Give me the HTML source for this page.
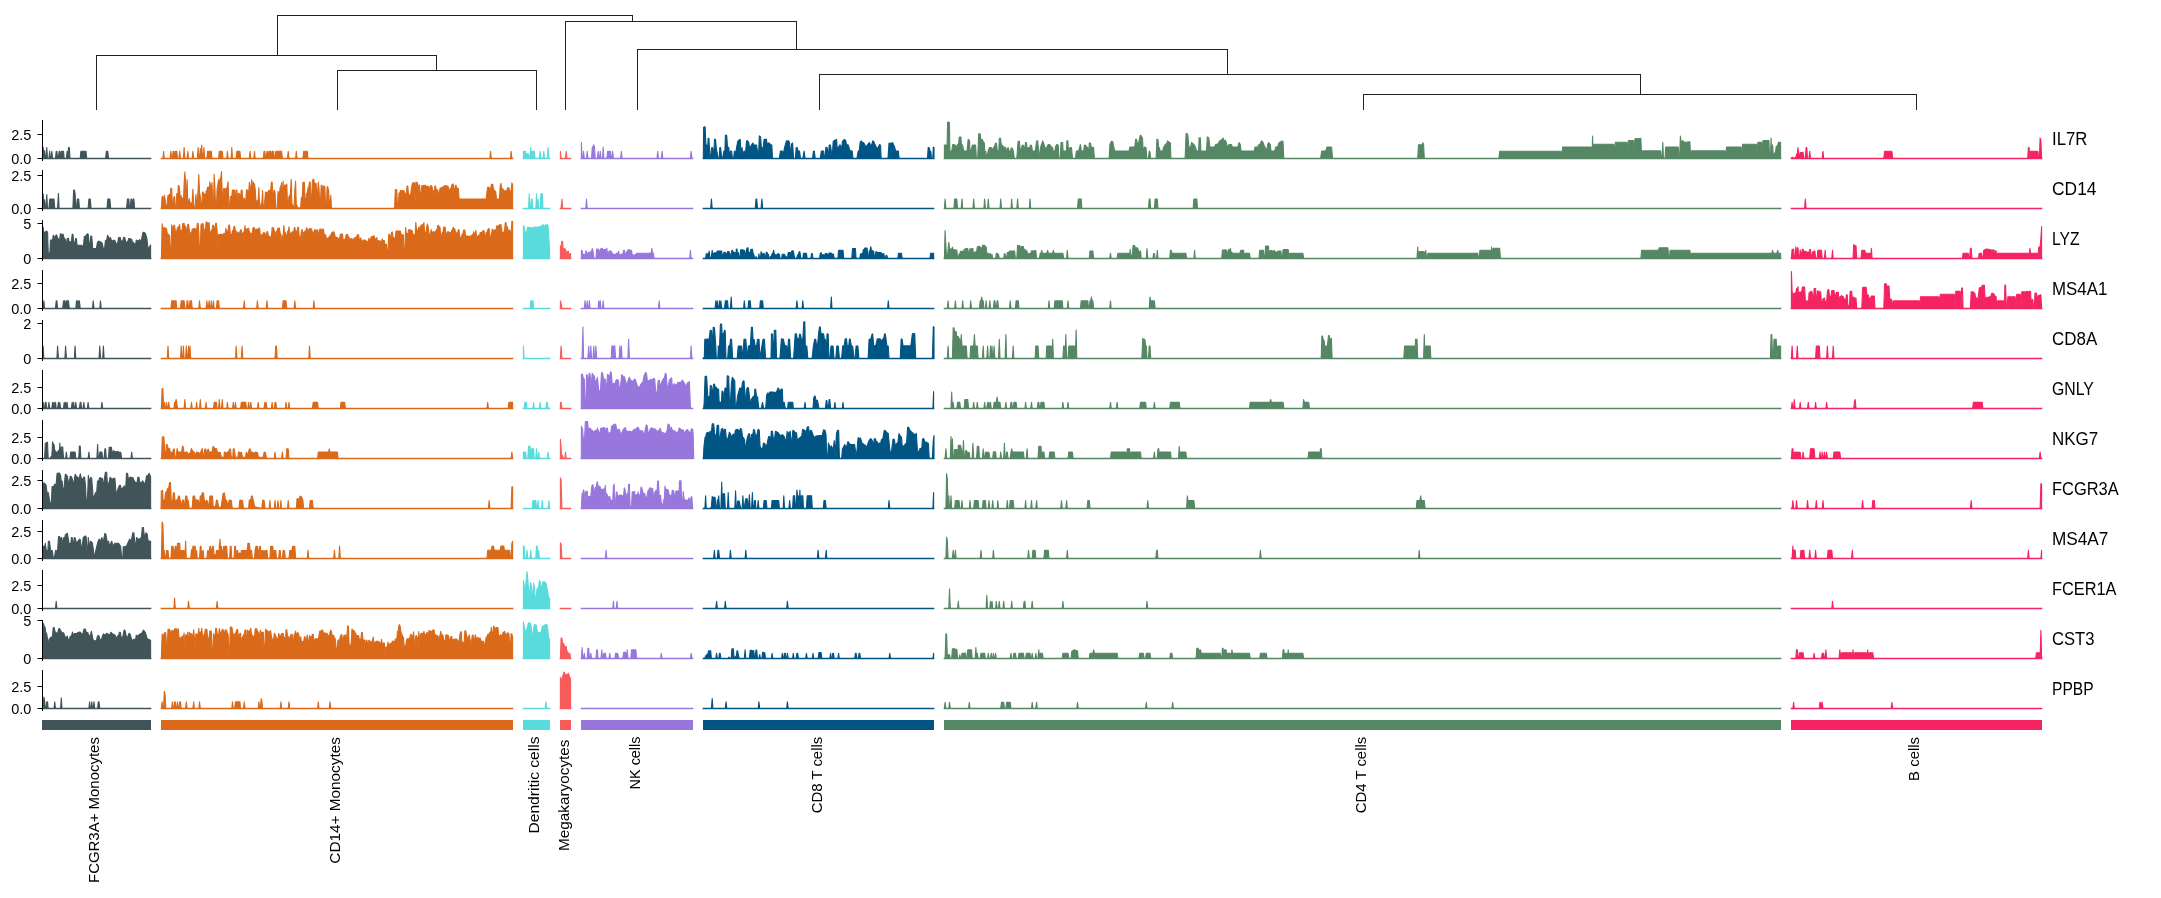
<!DOCTYPE html><html><head><meta charset="utf-8"><style>html,body{margin:0;padding:0;background:#fff;overflow:hidden}svg{display:block;will-change:transform}text{font-family:"Liberation Sans",sans-serif;opacity:0.999}</style></head><body>
<svg xmlns="http://www.w3.org/2000/svg" width="2161" height="898" viewBox="0 0 2161 898">
<rect width="2161" height="898" fill="#fff"/>
<path d="M96.5 109.5L96.5 55.5M96.5 55.5L436.5 55.5M436.5 55.5L436.5 70.5M337.5 109.5L337.5 70.5M337.5 70.5L536.5 70.5M536.5 70.5L536.5 109.5M277.5 55.5L277.5 15.5M277.5 15.5L632.5 15.5M632.5 15.5L632.5 21.5M565.5 109.5L565.5 21.5M565.5 21.5L796.5 21.5M796.5 21.5L796.5 49.5M637.5 109.5L637.5 49.5M637.5 49.5L1227.5 49.5M1227.5 49.5L1227.5 74.5M819.5 109.5L819.5 74.5M819.5 74.5L1640.5 74.5M1640.5 74.5L1640.5 94.5M1363.5 109.5L1363.5 94.5M1363.5 94.5L1916.5 94.5M1916.5 94.5L1916.5 109.5" stroke="#222" stroke-width="1" fill="none" stroke-linecap="square"/>
<path d="M42.4 158.5L42.4 158.5L43.1 147.1L43.9 158.5L44.6 150.5L45.3 158.5L46 158.5L46.8 147.5L47.5 158.5L48.9 158.5L49.7 151.2L50.4 158.5L51.1 158.5L51.8 151.2L52.6 158.5L55.5 158.5L56.2 151.2L56.9 151.2L57.6 158.5L58.4 158.5L59.1 151.2L59.8 151.2L60.6 158.5L61.3 151.2L63.5 151.2L64.2 158.5L66.4 158.5L67.1 151.2L67.8 158.5L68.5 147.5L69.3 147.5L70 158.5L80.2 158.5L80.9 151.2L86 151.2L86.7 158.5L105.6 158.5L106.3 151.2L107.8 151.2L108.5 158.5L150.6 158.5Z" fill="#405459" stroke="#405459" stroke-width="1.1" stroke-linejoin="round"/>
<path d="M41.7 158.50H151.3" stroke="#405459" stroke-width="1.5"/>
<path d="M161.4 158.5L162.9 158.5L163.6 151.2L164.3 158.5L170.2 158.5L170.9 151.2L171.7 158.5L172.4 158.5L173.1 151.2L173.9 151.2L174.6 158.5L175.3 151.2L176.8 151.2L177.5 158.5L179 158.5L179.7 151.2L180.5 158.5L183.4 158.5L184.1 147.6L184.9 158.5L187.1 158.5L187.8 151.2L188.5 158.5L192.2 158.5L192.9 151.2L193.7 158.5L197.3 158.5L198.1 147.5L198.8 158.5L199.5 158.5L200.3 148.5L201 158.5L201.7 145L202.5 158.5L203.2 158.5L203.9 147.5L204.7 158.5L206.9 158.5L207.6 151.2L211.3 151.2L212 158.5L218.6 158.5L219.3 151.2L222.3 151.2L223 158.5L226.7 158.5L227.4 151.2L228.1 158.5L231.1 158.5L231.8 147.5L232.5 158.5L236.2 158.5L236.9 151.2L239.9 151.2L240.6 158.5L249.4 158.5L250.1 151.2L250.8 158.5L253.8 158.5L254.5 151.2L255.2 158.5L263.3 158.5L264 151.2L264.8 151.2L265.5 158.5L266.2 158.5L267 151.2L267.7 151.2L268.4 158.5L269.2 151.2L270.6 151.2L271.4 158.5L272.1 151.2L273.6 151.2L274.3 158.5L275 158.5L275.8 151.2L281.6 151.2L282.4 158.5L287.5 158.5L288.2 151.2L289 158.5L295.6 158.5L296.3 151.2L297 158.5L302.9 158.5L303.6 151.2L307.3 151.2L308 158.5L489.9 158.5L490.6 151.2L491.3 158.5L510.4 158.5L511.1 151.2L511.9 158.5L512.6 158.5Z" fill="#da6a19" stroke="#da6a19" stroke-width="1.1" stroke-linejoin="round"/>
<path d="M160.7 158.50H513.3" stroke="#da6a19" stroke-width="1.5"/>
<path d="M523.4 158.5L523.4 151.2L525.6 151.2L526.3 158.5L527 153.7L528.5 153.7L529.2 158.5L530 158.5L530.7 147.6L531.4 158.5L532.1 151.2L534.3 151.2L535 158.5L539.4 158.5L540.1 151.2L540.9 158.5L543 158.5L543.8 151.2L544.5 158.5L547.4 158.5L548.1 147.6L548.9 158.5L549.6 158.5Z" fill="#59dbdc" stroke="#59dbdc" stroke-width="1.1" stroke-linejoin="round"/>
<path d="M522.7 158.50H550.3" stroke="#59dbdc" stroke-width="1.5"/>
<path d="M560.4 158.5L560.4 151.2L561.1 158.5L565.5 158.5L566.2 151.2L567 158.5L570.6 158.5Z" fill="#f75b5a" stroke="#f75b5a" stroke-width="1.1" stroke-linejoin="round"/>
<path d="M559.7 158.50H571.3" stroke="#f75b5a" stroke-width="1.5"/>
<path d="M581.4 158.5L581.4 142.2L582.1 158.5L582.9 158.5L583.6 151.2L584.3 158.5L586.5 158.5L587.2 151.2L587.9 158.5L591.6 158.5L592.3 147.1L593 147.1L593.8 144.7L594.5 147.1L595.2 158.5L597.4 158.5L598.1 151.2L598.8 158.5L599.6 158.5L600.3 151.2L601 158.5L602.5 158.5L603.2 147.1L603.9 158.5L606.8 158.5L607.6 151.2L610.5 151.2L611.2 158.5L611.9 158.5L612.7 151.2L613.4 158.5L620.6 158.5L621.4 151.2L622.1 158.5L657 158.5L657.7 151.2L658.4 158.5L661.3 158.5L662.1 151.2L662.8 158.5L690.4 158.5L691.1 151.2L691.9 158.5L692.6 158.5Z" fill="#9877dd" stroke="#9877dd" stroke-width="1.1" stroke-linejoin="round"/>
<path d="M580.7 158.50H693.3" stroke="#9877dd" stroke-width="1.5"/>
<path d="M703.4 158.5L933.6 158.5ZM703.3 158.5L703.3 158.5L703.6 127.2L705.1 126.7L705.9 144.5L706.9 145.5L707.6 151.1L708.1 138.4L708.9 138.4L709.9 157.2L710.7 157.2L711.5 148.1L712.5 147.6L713.2 151.1L714 151.1L714.5 139.4L715.5 139.4L716.3 148.6L718.3 158.5L719.3 158.5L719.8 147.6L720.6 147.6L721.6 157.2L722.6 158.5L723.9 151.1L724.9 151.1L725.4 135.3L726.7 135.3L727.5 147L728.8 147.6L729.5 157.2L730.5 151.1L731.6 151.1L732.3 157.2L733.8 157.2L734.4 151.1L735.6 153.7L736.6 147.6L737.7 141.5L739.2 139.9L740.2 139.4L741 153.7L742 147.6L743 153.7L744.3 151.1L745.3 155.2L746.6 140.9L747.6 140.9L748.6 142L749.4 147L750.6 147L751.4 145L752.9 143L753.9 145L756.5 145L758.5 157.2L759.3 135.9L760.6 136.9L761.3 147L763.1 148.6L764.1 139.4L766.4 139.4L767.4 145.5L768.4 143L769.5 143L770.2 144.5L771.8 145L772.5 158.5L779.4 158.5L780.4 151.1L782.4 151.1L783.5 153.7L784.5 147.6L786.5 140.9L788.8 140.9L789.6 143.5L790.3 151.1L791.1 151.1L791.6 144L792.6 143L793.6 158.5L795.4 158.5L796.2 147.6L797.2 147.6L798 151.1L799.5 151.1L800.5 158.5L802.8 158.5L804.1 151.1L805.1 158.5L812.6 158.5L813.4 151.1L814.4 151.6L815.2 158.5L820.3 158.5L821.3 151.1L823.6 151.1L824.3 157.2L825.1 157.2L825.9 147.3L827.1 147.6L828.4 157.2L829.2 145L830.4 145L832.2 157.2L833.2 141.5L834.5 140.4L836.6 139.4L837.1 147L838.6 147.6L839.6 145L840.4 145L841.4 151.1L842.4 141.5L844.4 139.4L845.7 140.4L846.5 144.5L848.3 145L849.8 150.6L852.1 151.1L853.1 158.5L856.9 158.5L858.2 151.1L859.2 151.1L860.2 142L861.5 140.9L862.5 143.5L863.5 142.5L865 145L866.3 147L867.6 144.5L869.4 142.5L870.4 145L871.7 145L872.7 140.9L873.7 141.5L874.7 144L876.2 147L877.3 149.1L879.6 144.5L880.6 145.5L881.1 158.5L888 158.5L889 143L891 143.5L892.5 142.5L894.6 147L895.6 151.1L898.4 151.1L899.1 158.5L927.5 158.5L928.2 147.4L929.4 147.9L930.1 151.3L930.9 151.8L931.4 158.5L932.8 158.5L933.3 147.4L934 147.4L934 158.5Z" fill="#015585" stroke="#015585" stroke-width="1.1" stroke-linejoin="round"/>
<path d="M702.7 158.50H934.3" stroke="#015585" stroke-width="1.5"/>
<path d="M944.4 158.5L1417.7 158.5L1418.5 144.7L1422.1 144.7L1422.9 142.7L1423.6 144.7L1424.3 158.5L1498.9 158.5L1499.7 151.2L1561.1 151.2L1561.9 158.5L1562.6 147.1L1591.1 147.1L1591.9 158.5L1592.6 136.1L1593.3 158.5L1594 144.3L1613.8 144.3L1614.5 158.5L1615.3 142.2L1627 142.2L1627.7 158.5L1628.4 140.5L1633.6 140.5L1634.3 158.5L1635 138.6L1636.5 138.6L1637.2 139L1637.9 139L1638.7 138.5L1640.1 138.5L1640.9 138.3L1641.6 158.5L1642.3 150.9L1660.6 150.9L1661.4 158.5L1662.1 158.5L1662.8 142.2L1663.5 158.5L1665 158.5L1665.7 147.1L1678.2 147.1L1678.9 158.5L1679.6 158.5L1680.4 136.1L1681.1 141.5L1681.8 141.5L1682.6 140.8L1683.3 140.8L1684 142.8L1684.8 142.3L1687 142.3L1687.7 141.9L1689.9 141.9L1690.6 158.5L1691.3 150.9L1725 150.9L1725.7 158.5L1726.5 147.1L1741.1 147.1L1741.8 158.5L1742.6 144.3L1756.5 144.3L1757.2 158.5L1757.9 142.2L1761.6 142.2L1762.3 158.5L1763 140.5L1768.9 140.5L1769.6 158.5L1770.4 158.5L1771.1 138.1L1771.8 158.5L1772.6 144.9L1773.3 155.8L1774 155.8L1774.7 152.8L1775.5 152.8L1776.2 146.4L1776.9 146.4L1777.7 145.3L1778.4 142.2L1780.6 142.2L1780.6 158.5ZM944.4 158.5L944.4 145L947.1 145L947.6 122.1L949.4 122.6L949.9 151.1L951.7 151.6L952.7 144.5L955.3 145L956.3 148.1L957.3 145L958.6 143.5L959.3 137.1L960.9 137.1L961.4 144.5L962.4 145L963.9 151.1L967 151.1L968.2 139.4L969.5 140.4L970 151.6L970.5 151.6L972.6 145L975.6 145L976.4 158.5L977.7 158.5L978.7 133.8L980.2 133.8L980.7 138.9L982.2 139.4L983.3 142L984.3 143L984.8 151.1L985.8 151.6L986.8 158.5L988.1 151.1L989.4 147.6L991.4 147.6L992.4 150.6L993.4 147.6L994.5 147L995.5 143L996.5 143.5L997.3 151.1L998.8 151.1L999.3 138.4L1000.6 138.4L1001.3 145L1002.6 145.5L1003.6 147L1005.6 147.6L1006.4 153.7L1007.2 148.6L1008.2 147.6L1009.2 151.1L1010.7 151.1L1011.2 148.1L1012.3 148.1L1013.3 151.1L1014.3 158.5L1016.8 158.5L1018.1 141.2L1019.4 141.2L1020.2 151.1L1021.4 148.1L1022.4 145L1023.5 145.5L1024.5 151.1L1025.5 142.5L1026.5 142.5L1027.3 151.1L1028.3 147.6L1029.6 147.6L1030.6 145L1031.6 145.5L1032.4 151.1L1035.2 151.1L1036.7 140.9L1037.7 140.9L1039.2 158.5L1040.5 147.6L1041.3 145L1042.8 140.9L1044.8 147L1046.3 149.1L1047.5 145.5L1048.6 144.5L1050.3 145L1051.1 147L1052.6 147.6L1053.1 151.1L1054.9 151.1L1055.4 147L1056.7 144.5L1058.2 145L1059 158.5L1060.3 158.5L1061 142.5L1062.6 142.5L1063.1 151.1L1066.4 151.1L1066.9 140.9L1067.9 140.9L1068.4 151.1L1069.9 147.6L1071.5 147.6L1072.5 158.5L1075.5 158.5L1076.3 151.1L1078.6 151.1L1080.4 144.5L1081.4 151.1L1083.7 151.1L1084.4 145L1085.7 145.5L1086.5 147L1087.7 147.6L1088.5 158.5L1089.3 143L1090.5 143L1091.1 147L1093.6 147.6L1094.4 158.5L1109.1 158.5L1109.9 144.5L1111.4 141.2L1112.7 141.5L1114.7 151.1L1129 151.1L1130 147L1134.8 147L1135.6 139.4L1136.6 139.4L1137.4 144L1138.6 143L1140.2 135.3L1141.4 135.9L1142.5 138.4L1143.2 151.1L1144.7 147L1146 147.6L1146.8 158.5L1148.3 158.5L1149.3 151.1L1150 151.6L1150.6 158.5L1156.1 158.5L1156.9 139.4L1157.9 139.4L1158.7 147L1159.4 148.1L1160.2 151.1L1162.7 151.1L1163.5 147.6L1165.3 144.5L1166.8 143.5L1167.6 140.9L1168.8 142L1170.4 143L1170.9 158.5L1185.1 158.5L1186.1 133.3L1187.7 134.3L1188.9 147L1190.7 147L1191.5 142.5L1192.7 143.5L1194.3 145L1195.3 147L1196.6 151.1L1198.6 151.1L1199.1 137.9L1200.4 137.9L1200.9 151.1L1206.5 151.1L1207.3 136.9L1208.8 137.9L1209.8 147L1214.6 147L1215.6 144.5L1217.7 144L1220.2 140.4L1222.3 139.4L1223 137.9L1223.8 140.4L1225.3 140.4L1226.3 142.5L1227.1 147L1228.9 144.5L1231.4 144.5L1232.4 147L1238 147L1239.1 142.5L1240.3 144.5L1241.1 151.1L1254.1 151.1L1255.1 147L1257.8 147L1258.6 145L1260.3 144L1261.4 140.9L1262.6 141.5L1263.7 144.5L1265.4 148.1L1266.5 151.1L1267.7 144.5L1268.7 142.5L1270.3 144.5L1271 151.1L1274.8 151.1L1275.6 147L1277.6 147L1278.9 143L1280.4 142L1282 140.9L1283 141.5L1283.8 158.5L1320.6 158.5L1321.7 151.1L1325.7 151.1L1327 147L1331.6 147L1332.6 158.5L1332.6 158.5Z" fill="#568764" stroke="#568764" stroke-width="1.1" stroke-linejoin="round"/>
<path d="M943.7 158.50H1781.3" stroke="#568764" stroke-width="1.5"/>
<path d="M1791.4 158.5L1791.4 158.5L1792.1 157.2L1792.9 157.2L1793.6 158.5L1794.3 158.5L1795.1 157.5L1795.8 157.5L1796.5 154.1L1797.3 154.1L1798 147.6L1798.7 153.9L1799.5 156.8L1800.2 152.5L1801.7 152.5L1802.4 153.8L1803.1 152L1803.9 158.5L1805.3 158.5L1806.1 147.6L1806.8 147.6L1807.5 158.5L1809 158.5L1809.7 151.2L1810.5 158.5L1822.2 158.5L1823 151.2L1823.7 158.5L1883.8 158.5L1884.6 151.2L1891.9 151.2L1892.7 158.5L2027.7 158.5L2028.4 147.6L2029.1 147.6L2029.9 158.5L2030.6 151.2L2037.9 151.2L2038.7 158.5L2039.4 158.5L2040.1 138.1L2040.9 140.5L2041.6 158.5L2041.6 158.5Z" fill="#f52362" stroke="#f52362" stroke-width="1.1" stroke-linejoin="round"/>
<path d="M1790.7 158.50H2042.3" stroke="#f52362" stroke-width="1.5"/>
<path d="M42.4 208.5L42.4 208.5L43.1 193.8L43.9 208.5L44.6 199.5L45.3 208.5L46 208.5L46.8 194.5L47.5 208.5L48.9 208.5L49.7 199.1L54 199.1L54.7 208.5L57.6 208.5L58.4 193.3L59.1 208.5L72.9 208.5L73.6 190L74.4 190L75.1 193.5L75.8 208.5L76.5 208.5L77.3 199.1L78.7 199.1L79.4 208.5L88.1 208.5L88.9 199.1L90.3 199.1L91.1 208.5L107 208.5L107.8 199.1L109.9 199.1L110.7 208.5L126.6 208.5L127.4 199.1L128.8 199.1L129.5 208.5L130.3 208.5L131 199.1L131.7 199.1L132.4 208.5L133.2 199.1L133.9 199.1L134.6 208.5L150.6 208.5Z" fill="#405459" stroke="#405459" stroke-width="1.1" stroke-linejoin="round"/>
<path d="M41.7 208.50H151.3" stroke="#405459" stroke-width="1.5"/>
<path d="M161.4 208.5L161.4 208.5L162.1 196.3L162.9 198.2L163.6 198.2L164.3 195L165.1 199.4L165.8 206.5L166.5 208.5L167.3 202L168 195.4L168.7 195.4L169.5 194.5L170.2 194.5L170.9 188.4L171.7 188.4L172.4 205.5L173.1 205.5L173.9 196.7L174.6 196.7L175.3 208.5L176.1 208.5L176.8 193.5L177.5 200.2L178.3 185.5L179 185.5L179.7 190.5L180.5 200.2L181.2 195.8L181.9 198.2L182.7 198.2L183.4 204.2L184.1 183.4L184.9 171.9L185.6 183.3L186.3 208.5L187.1 179.5L187.8 201.6L188.5 203.3L189.3 198.9L190 203.1L190.7 203.1L191.5 202.9L192.2 202.9L192.9 189L193.7 205.1L194.4 208.5L195.1 208.5L195.9 194.4L196.6 203.5L197.3 203.5L198.1 189.6L198.8 174.5L199.5 191.9L200.3 196.8L201 205.5L201.7 206.8L202.5 192.1L203.2 192.1L203.9 197.7L204.7 193.9L205.4 200L206.1 191L206.9 191L207.6 187.1L208.3 187.1L209.1 193.8L209.8 181.9L210.5 187L211.3 187L212 182.5L212.7 204.1L213.5 204.1L214.2 174.2L214.9 188.5L215.7 208.5L216.4 208.5L217.1 189.1L217.9 184.5L218.6 179.6L219.3 188.3L220.1 178.3L220.8 178.3L221.5 171.6L222.3 194.8L223 197.9L223.7 188.5L224.5 188.5L225.2 199.9L225.9 188.4L226.7 188.4L227.4 186.3L228.1 181.7L228.9 208.5L229.6 208.5L230.3 196.6L231.1 196.6L231.8 195.8L232.5 190.1L233.3 190.1L234 190.4L234.7 190.4L235.5 205.2L236.2 190.1L236.9 190.1L237.7 208.5L238.4 193.3L239.1 193.3L239.9 196L240.6 196L241.3 190L242.1 190L242.8 201.1L243.5 198.3L244.3 198.3L245 201.6L245.7 201.6L246.5 189.8L247.2 189.8L247.9 192.1L248.7 192.1L249.4 182.3L250.1 188.2L250.8 192.8L251.6 179.5L252.3 203.2L253 181.6L253.8 183.7L254.5 183.7L255.2 189.4L256 202.2L256.7 202.2L257.4 200.3L258.2 200.3L258.9 187.5L259.6 208.5L260.4 208.5L261.1 203.4L261.8 203.8L262.6 190.5L263.3 208.5L264 208.5L264.8 200.3L265.5 192.1L266.2 192.1L267 193.4L267.7 193.4L268.4 190.6L269.2 190.6L269.9 191L270.6 191L271.4 182.1L272.1 182.1L272.8 193.6L273.6 193.6L274.3 190.2L275 192L275.8 208.5L277.2 208.5L278 191.3L278.7 194.6L279.4 194.6L280.2 186.7L280.9 186.7L281.6 182.7L282.4 205.2L283.1 181.1L283.8 201L284.6 185.1L285.3 185.1L286 186.6L286.8 184L287.5 204.9L288.2 205.3L289 196.2L289.7 196.1L290.4 193.2L291.2 179.4L291.9 204.2L292.6 204.2L293.4 208.5L294.1 208.5L294.8 191L295.6 181L296.3 205.5L297 205.5L297.8 208L300 208L300.7 206.4L301.4 197.3L302.2 199.8L302.9 182.5L303.6 182.3L304.4 182.3L305.1 202.1L305.8 202.1L306.6 193.4L307.3 193.4L308 187.9L308.8 186.7L309.5 182.1L310.2 182.1L311 202.4L311.7 198.7L312.4 181.5L313.2 179.2L313.9 179.2L314.6 185.3L315.4 183.4L316.1 183.4L316.8 199.3L317.6 192.3L318.3 182L319 188.5L319.8 205.4L320.5 202.4L321.2 185.3L322 185.3L322.7 203.2L323.4 186L324.2 186L324.9 187.3L325.6 208.5L326.4 208.5L327.1 186.8L327.8 186.8L328.6 190.6L329.3 202.8L330 205.2L330.8 195.4L331.5 208.5L394.6 208.5L395.3 189.5L396 189.5L396.8 189.7L397.5 208.5L398.2 208.5L399 193.1L399.7 193.1L400.4 190.6L401.9 190.6L402.6 190.9L404.1 190.9L404.8 193.4L405.6 193.4L406.3 195.8L407 186.1L407.8 186.1L408.5 194.8L410.7 194.8L411.4 188.4L412.2 184.5L412.9 182.7L414.4 182.7L415.1 203.6L415.8 182.2L417.3 182.2L418 192.6L418.8 185L419.5 185L420.2 195.2L421 195.2L421.7 185.8L422.4 185.8L423.2 185.6L423.9 185.3L425.3 185.3L426.1 186.4L428.3 186.4L429 188.5L429.7 188.5L430.5 185.6L431.2 185.6L431.9 186.4L432.7 190.5L433.4 190.5L434.1 195.7L434.9 186L435.6 186L436.3 189.9L437.8 189.9L438.5 194.7L439.3 194.7L440 188.1L441.5 188.1L442.2 187.1L443.7 187.1L444.4 185.8L446.6 185.8L447.3 186.3L448.1 186.3L448.8 191.1L449.5 191.1L450.3 188L451 190.1L451.7 185.7L452.5 184L453.2 184L453.9 190.4L454.7 190.4L455.4 185.3L456.1 185.3L456.9 188.4L458.3 188.4L459.1 199.1L486.2 199.1L486.9 192.2L487.7 187.2L489.1 187.2L489.9 190L490.6 190L491.3 184.4L492.8 184.4L493.5 190L494.3 190L495 191.4L495.7 191.4L496.5 199.1L499.4 199.1L500.1 186.9L500.9 183.3L501.6 187.5L502.3 188.8L503.1 189.1L503.8 192.5L504.5 190.8L506 190.8L506.7 192.2L507.5 187.8L508.9 187.8L509.7 191.7L510.4 191L511.1 191L511.9 182.8L512.6 185.2L512.6 208.5Z" fill="#da6a19" stroke="#da6a19" stroke-width="1.1" stroke-linejoin="round"/>
<path d="M160.7 208.50H513.3" stroke="#da6a19" stroke-width="1.5"/>
<path d="M523.4 208.5L528.5 208.5L529.2 193.8L530 208.5L530.7 208.5L531.4 199.1L532.1 199.1L532.9 208.5L535.8 208.5L536.5 193.8L537.2 208.5L538 199.1L538.7 208.5L540.1 208.5L540.9 193.8L542.3 193.8L543 208.5L549.6 208.5Z" fill="#59dbdc" stroke="#59dbdc" stroke-width="1.1" stroke-linejoin="round"/>
<path d="M522.7 208.50H550.3" stroke="#59dbdc" stroke-width="1.5"/>
<path d="M560.4 208.5L561.1 208.5L561.9 199.1L562.6 208.5L570.6 208.5Z" fill="#f75b5a" stroke="#f75b5a" stroke-width="1.1" stroke-linejoin="round"/>
<path d="M559.7 208.50H571.3" stroke="#f75b5a" stroke-width="1.5"/>
<path d="M581.4 208.5L585.8 208.5L586.5 199.1L587.2 208.5L692.6 208.5Z" fill="#9877dd" stroke="#9877dd" stroke-width="1.1" stroke-linejoin="round"/>
<path d="M580.7 208.50H693.3" stroke="#9877dd" stroke-width="1.5"/>
<path d="M703.4 208.5L710.7 208.5L711.4 199.1L712.2 208.5L755.3 208.5L756 199.1L756.7 199.1L757.5 208.5L761.1 208.5L761.9 199.1L762.6 208.5L933.6 208.5Z" fill="#015585" stroke="#015585" stroke-width="1.1" stroke-linejoin="round"/>
<path d="M702.7 208.50H934.3" stroke="#015585" stroke-width="1.5"/>
<path d="M944.4 208.5L944.4 208.5L945.1 199.1L945.9 208.5L953.9 208.5L954.6 199.1L956.8 199.1L957.6 208.5L961.2 208.5L962 199.1L962.7 208.5L972.9 208.5L973.7 199.1L974.4 208.5L983.9 208.5L984.6 199.1L985.4 208.5L987.6 208.5L988.3 199.1L989 208.5L1000 208.5L1000.7 199.1L1001.5 208.5L1011 208.5L1011.7 199.1L1012.4 208.5L1016.8 208.5L1017.6 199.1L1018.3 208.5L1029.3 208.5L1030 199.1L1030.7 208.5L1077.5 208.5L1078.3 199.1L1081.2 199.1L1081.9 208.5L1148.5 208.5L1149.2 199.1L1150 199.1L1150.7 208.5L1154.4 208.5L1155.1 199.1L1157.3 199.1L1158 208.5L1193.1 208.5L1193.9 199.1L1196.8 199.1L1197.5 208.5L1780.6 208.5Z" fill="#568764" stroke="#568764" stroke-width="1.1" stroke-linejoin="round"/>
<path d="M943.7 208.50H1781.3" stroke="#568764" stroke-width="1.5"/>
<path d="M1791.4 208.5L1804.6 208.5L1805.3 199.1L1806.1 208.5L2041.6 208.5Z" fill="#f52362" stroke="#f52362" stroke-width="1.1" stroke-linejoin="round"/>
<path d="M1790.7 208.50H2042.3" stroke="#f52362" stroke-width="1.5"/>
<path d="M42.4 258.5L150.6 258.5ZM42.9 258.5L42.9 258.5L43.1 227L43.7 232.2L44.7 232.2L45.3 234.4L45.8 231.2L46.9 231.2L47.6 232.2L48.2 252.8L49.2 253.3L49.8 253.9L50.5 240.1L51.9 240.1L52.4 241.7L53.2 235.4L54 235.9L54.8 240.1L55.8 235.4L56.6 234.9L57.4 237.5L58.5 239.1L59.5 242.3L60.3 233.8L62.2 234.4L63.2 234.4L64 238L65.1 239.1L66.4 244.9L67.2 238.6L68.5 238.3L69 241.7L71.4 241.7L72.2 234.4L73 234.4L73.5 242.3L74.8 242.3L75.6 238.6L76.4 238.6L77.2 246.5L78.5 245.2L81.7 245.2L82.5 246.5L83.5 245.5L84.3 236.5L85.4 236.5L86.4 234.9L87.5 233.8L88.3 234.4L89.3 244.9L90.1 244.9L90.9 235.9L91.7 236.2L92.7 248.3L93.5 248.6L96.4 248.3L97.5 242.3L98.5 241.2L99.6 241.2L100.7 242.3L101.7 242.3L102.5 244.4L103.3 248.6L104.6 248.3L105.4 240.7L106.7 240.1L107.5 235.4L108.6 237L109.6 240.1L110.4 237.5L111.5 240.7L113 240.7L113.8 240.1L114.9 240.7L116.2 243.8L117.5 244.1L118.6 237.5L120.2 237.5L121 240.7L122.8 241.2L123.6 237.3L124.7 237.5L125.7 241.7L127.6 242.3L128.6 238.6L129.7 238.6L130.7 239.1L131.8 239.6L132.3 242.3L133.4 242.3L134.4 244.1L135.7 244.1L136.3 240.1L137.6 240.7L138.4 241.2L139.7 239.6L141.3 241.2L142.3 235.4L143.1 232.2L144.7 232.8L145.5 233.8L146.8 238L148.1 248.6L149.4 247.5L150.5 244.9L150.6 245.2L150.6 258.5Z" fill="#405459" stroke="#405459" stroke-width="1.1" stroke-linejoin="round"/>
<path d="M41.7 258.50H151.3" stroke="#405459" stroke-width="1.5"/>
<path d="M161.4 258.5L161.4 258.5L162.1 223.7L162.9 229.4L163.6 227.8L165.1 227.8L165.8 228.7L166.5 228.7L167.3 233.8L168 233.8L168.7 235.4L169.5 235.4L170.2 253.4L170.9 253.4L171.7 224.8L172.4 228.2L173.1 228.2L173.9 225.2L174.6 225.2L175.3 231.1L176.8 231.1L177.5 227.4L178.3 227.4L179 226.3L179.7 224.5L180.5 235.5L181.2 230.4L181.9 233.1L182.7 223.5L184.1 223.5L184.9 226.9L185.6 226.4L186.3 231.4L187.1 228.9L187.8 224.4L188.5 224.4L189.3 230.3L190 232.7L190.7 232.7L191.5 234.6L192.2 229.1L192.9 229.1L193.7 228.6L195.1 228.6L195.9 230.4L196.6 230.4L197.3 223.2L198.1 223.2L198.8 233L199.5 251.2L200.3 251.2L201 224.8L201.7 223.8L203.2 223.8L203.9 232.4L204.7 229.5L205.4 229.8L206.1 222L206.9 222L207.6 223.4L208.3 223.4L209.1 222.5L209.8 234.2L210.5 234.2L211.3 230.2L212 230.2L212.7 225.3L213.5 225.4L214.2 228.5L214.9 229L215.7 223.3L216.4 223.3L217.1 230.2L217.9 248.7L218.6 234.6L220.1 234.6L220.8 234.4L222.3 234.4L223 235.2L223.7 233.6L224.5 233.5L225.2 233.5L225.9 228.3L226.7 233.4L227.4 233.4L228.1 229.6L228.9 225.1L229.6 225.1L230.3 234.5L231.8 234.5L232.5 230.6L233.3 230.6L234 226.4L234.7 226.4L235.5 231.6L236.9 231.6L237.7 233.6L238.4 233.6L239.1 232.4L239.9 232.4L240.6 229.9L241.3 229.9L242.1 234.8L242.8 233.7L243.5 232.1L244.3 232.1L245 225.5L245.7 236.5L246.5 228.7L247.9 228.7L248.7 228.3L249.4 232.7L250.1 232.7L250.8 233.6L252.3 233.6L253 227.8L254.5 227.8L255.2 235.9L256 229.1L256.7 229.4L258.2 229.4L258.9 228.1L259.6 228.1L260.4 236.5L261.1 234.9L262.6 234.9L263.3 232.7L264.8 232.7L265.5 235.7L266.2 235.7L267 231.6L267.7 231.6L268.4 236.3L269.9 236.3L270.6 237.2L271.4 237.2L272.1 227.8L273.6 227.8L274.3 231.2L275 232L275.8 237L276.5 231L277.2 231L278 228L279.4 228L280.2 233.9L280.9 233.9L281.6 249.4L282.4 235.8L283.1 237.1L283.8 225.6L284.6 232.6L285.3 232.6L286 236L286.8 236L287.5 231.3L288.2 231.3L289 226.9L289.7 233.4L291.2 233.4L291.9 232.1L292.6 231.6L293.4 236.1L294.1 228.2L294.8 227.5L295.6 231.4L297 231.4L297.8 227.2L298.5 227.2L299.2 237.1L300.7 237.1L301.4 230.9L302.2 229.6L302.9 237L303.6 232.2L304.4 232.2L305.1 231L305.8 231L306.6 227.5L307.3 232.7L308 229L308.8 237.8L309.5 228.6L311 228.6L311.7 229.5L312.4 232.4L313.9 232.4L314.6 229.8L315.4 229.8L316.1 237.4L316.8 229.7L317.6 229.7L318.3 233.9L319 233.9L319.8 229.1L321.2 229.1L322 237.3L322.7 229L323.4 229L324.2 234.9L325.6 234.9L326.4 238.3L327.1 238.4L327.8 238.4L328.6 237.4L329.3 237.4L330 235.6L330.8 235.6L331.5 232.8L332.2 232.8L333 231.7L333.7 231.7L334.4 233.1L335.2 237.1L335.9 237.1L336.6 237.6L337.4 237.6L338.1 238.7L339.6 238.7L340.3 234.7L341 234L342.5 234L343.2 240.9L344 239.2L345.4 239.2L346.2 234.5L347.6 234.5L348.4 237.3L349.1 237.3L349.8 240.1L350.6 238.8L352 238.8L352.8 239.8L353.5 239.8L354.2 237.9L355 237.9L355.7 237.6L356.4 237.6L357.2 234.8L358.6 234.8L359.4 240.1L360.1 240.1L360.8 237.8L361.6 240.9L363 240.9L363.8 239.9L364.5 240L365.2 240L366 241L366.7 241L367.4 242.1L368.2 242.1L368.9 238.2L369.6 240.3L370.4 240.3L371.1 237.3L371.8 236.6L373.3 236.6L374 235.7L374.8 238.8L376.2 238.8L377 237.5L377.7 252L378.4 240.5L379.2 240.5L379.9 241.4L381.4 241.4L382.1 239.1L382.8 240.5L384.3 240.5L385 244.4L386.5 244.4L387.2 252.7L388 252.7L388.7 234.2L389.4 234.2L390.2 241.4L390.9 235.8L391.6 232.2L392.4 231.9L393.1 237.9L394.6 237.9L395.3 238.7L396 231.1L397.5 231.1L398.2 231L399.7 231L400.4 231.1L401.2 234.7L401.9 234.9L403.4 234.9L404.1 255.1L404.8 255.1L405.6 227.3L406.3 235.5L407 233.4L407.8 234.9L408.5 229.8L410 229.8L410.7 230.2L411.4 230.2L412.2 230.7L412.9 234.9L413.6 234.7L415.1 234.7L415.8 222.3L416.6 230.1L418 230.1L418.8 227.4L420.2 227.4L421 225.5L421.7 224.8L423.2 224.8L423.9 222.6L424.6 232.5L425.3 232.5L426.1 232.1L426.8 226.2L427.5 223.9L428.3 227.7L429 234.9L429.7 234.9L430.5 232.6L431.2 229.5L431.9 235.3L432.7 231.8L434.1 231.8L434.9 232.4L435.6 232.4L436.3 229.7L437.1 229.7L437.8 225.4L438.5 225.4L439.3 227.1L440 227.1L440.7 236.4L441.5 236.4L442.2 232.5L442.9 232.5L443.7 227.3L444.4 227L445.1 227L445.9 234.7L446.6 234.7L447.3 231.9L448.8 231.9L449.5 232.6L450.3 232.6L451 235.3L451.7 230.1L452.5 230.1L453.2 227.2L453.9 228.7L454.7 228.7L455.4 231.5L456.1 233L457.6 233L458.3 229.7L459.1 229.7L459.8 238.4L460.5 237L461.3 238.6L462 234.5L462.7 234.5L463.5 230.1L464.9 230.1L465.7 238.2L466.4 236L467.9 236L468.6 236.4L470.1 236.4L470.8 236.1L471.5 236.1L472.3 234.6L473 235.4L473.7 231.6L474.5 234L475.2 234L475.9 230.3L476.7 238L477.4 238L478.1 235.4L479.6 235.4L480.3 232.5L481.1 232.5L481.8 233.3L482.5 231L483.3 231L484 230.5L484.7 237.3L485.5 236.2L486.2 232.4L486.9 232.4L487.7 230.3L488.4 228.6L489.1 228.6L489.9 235.4L490.6 236.7L491.3 236.7L492.1 229.4L492.8 229.4L493.5 231.2L494.3 231.2L495 229.5L495.7 236.2L496.5 226L497.9 226L498.7 225.8L499.4 224.7L500.1 224.7L500.9 224.4L501.6 229.2L502.3 234.6L503.1 232.2L503.8 232.2L504.5 231L505.3 222.5L506 222.5L506.7 229.5L507.5 226.8L508.2 234.8L508.9 230.1L509.7 230.1L510.4 233.2L511.1 233.2L511.9 221.3L512.6 221.3L512.6 258.5Z" fill="#da6a19" stroke="#da6a19" stroke-width="1.1" stroke-linejoin="round"/>
<path d="M160.7 258.50H513.3" stroke="#da6a19" stroke-width="1.5"/>
<path d="M523.4 258.5L523.4 225.6L524.1 227.5L524.9 230.5L525.6 234.5L526.3 235.4L527 229.5L527.8 227L528.5 228.5L529.2 227.2L530 228L530.7 227.5L531.4 228.5L532.1 227.5L532.9 228L533.6 227.2L534.3 228.5L535 227.5L535.8 226.5L536.5 227.5L537.2 228L538 227L538.7 227.5L539.4 226.5L540.1 227.5L540.9 226L541.6 227L542.3 225.5L543 224.7L543.8 225.5L544.5 226.5L545.2 225L546 225.5L546.7 224.5L547.4 224.7L548.1 226.5L548.9 238.5L549.6 250.3L549.6 258.5Z" fill="#59dbdc" stroke="#59dbdc" stroke-width="1.1" stroke-linejoin="round"/>
<path d="M522.7 258.50H550.3" stroke="#59dbdc" stroke-width="1.5"/>
<path d="M560.4 258.5L560.4 246L561.1 246.5L561.9 241.3L562.6 241.3L563.3 253.2L564 248.5L564.8 249L565.5 249L566.2 252.6L567 252.6L567.7 251.4L568.4 251.4L569.1 254.4L569.9 254.4L570.6 253.5L570.6 258.5Z" fill="#f75b5a" stroke="#f75b5a" stroke-width="1.1" stroke-linejoin="round"/>
<path d="M559.7 258.50H571.3" stroke="#f75b5a" stroke-width="1.5"/>
<path d="M581.4 258.5L581.4 250.5L582.1 250.5L582.9 254.4L583.6 254.5L584.3 254.5L585 258.5L585.8 251L586.5 251L587.2 256.8L587.9 253.5L588.7 252.4L589.4 252.4L590.1 258.5L590.8 251L591.6 252.2L592.3 248.3L593 251.6L593.8 257.5L594.5 258.5L595.9 258.5L596.7 249L598.1 249L598.8 251.4L599.6 251.4L600.3 249L601 249L601.8 248.2L602.5 248.5L603.2 250.9L603.9 249.5L606.1 249.5L606.8 248.3L607.6 254.6L608.3 254.6L609 251L611.2 251L611.9 253.2L612.7 253.2L613.4 254.5L615.6 254.5L616.3 253.2L617 253.2L617.7 254.2L618.5 251.1L619.2 254.3L620.6 254.3L621.4 254.6L622.1 254.1L622.8 254.1L623.6 250.2L624.3 250.2L625 254.3L625.7 254.3L626.5 251.9L627.2 251.9L627.9 249.9L630.1 249.9L630.8 256.3L631.5 250.4L632.3 255.1L634.5 255.1L635.2 254.6L635.9 254.6L636.6 253.2L647.5 253.2L648.3 254.6L649 253L651.2 253L651.9 248.3L652.6 253.1L653.4 253.1L654.1 258.5L689.7 258.5L690.4 250.3L691.1 258.5L692.6 258.5Z" fill="#9877dd" stroke="#9877dd" stroke-width="1.1" stroke-linejoin="round"/>
<path d="M580.7 258.50H693.3" stroke="#9877dd" stroke-width="1.5"/>
<path d="M703.4 258.5L705.6 258.5L706.3 253.7L707.1 253.7L707.8 254L708.5 253.8L709.2 251.2L710 258.5L710.7 258.5L711.4 256.4L712.2 250.4L712.9 253.8L713.6 253.8L714.4 252.9L716.6 252.9L717.3 251L721.7 251L722.4 258.5L723.1 254.7L723.9 252.4L725.3 252.4L726.1 254.1L726.8 254.1L727.5 251.6L729 251.6L729.7 253.3L730.4 255.2L731.2 255.2L731.9 250.4L732.6 250.4L733.4 252.6L734.8 252.6L735.6 256.6L736.3 249L737 249L737.7 256.8L738.5 252.6L739.2 258.5L739.9 258.5L740.7 249.8L742.9 249.8L743.6 250.4L744.3 250.4L745.1 258.5L745.8 252.5L746.5 249.5L747.2 247.8L748 247.8L748.7 255.2L749.4 252.6L750.2 252.6L750.9 249.2L752.4 249.2L753.1 253.3L753.8 254.6L754.6 258.5L755.3 258.5L756 256.5L756.7 258.5L758.2 258.5L758.9 253.9L759.7 258.5L760.4 258.5L761.1 251.6L761.9 253.7L763.3 253.7L764.1 253.4L764.8 256.5L765.5 258.5L766.2 252.2L767 252.2L767.7 254.2L768.4 254.2L769.2 258.5L769.9 258.5L770.6 256.4L771.4 256.4L772.1 253.6L772.8 253.6L773.6 250.3L774.3 253.6L775 254.9L777.2 254.9L777.9 253.5L778.7 254.2L779.4 254.2L780.1 258.5L781.6 258.5L782.3 254.2L784.5 254.2L785.2 256.2L786 256.2L786.7 258.5L787.4 258.5L788.2 252.5L790.4 252.5L791.1 253.7L791.8 250.9L793.3 250.9L794 254.5L794.7 258.5L796.2 258.5L796.9 257.7L797.7 254.7L798.4 254.7L799.1 251.8L799.9 251.8L800.6 257.4L801.3 258.5L802.8 258.5L803.5 253.2L806.4 253.2L807.2 258.5L810.8 258.5L811.6 253.5L812.3 253.5L813 258.5L819.6 258.5L820.3 253.2L821.1 252.7L821.8 254.7L824 254.7L824.7 255.8L825.4 253.5L826.9 253.5L827.6 254.5L828.4 254.5L829.1 253.1L831.3 253.1L832 254.7L832.8 254L833.5 254L834.2 258.5L837.9 258.5L838.6 250.3L843 250.3L843.7 258.5L851.8 258.5L852.5 248.5L855.4 248.5L856.1 258.5L859.8 258.5L860.5 253.9L862 253.9L862.7 253.4L863.4 249.5L864.2 249.5L864.9 248.1L867.1 248.1L867.8 255.7L868.6 257.3L869.3 250.7L870 250.7L870.8 246.7L871.5 250.4L872.2 250.4L872.9 251.2L873.7 251.2L874.4 257.4L875.1 257.4L875.9 251.7L876.6 251.7L877.3 252.5L881 252.5L881.7 253.7L883.9 253.7L884.6 258.5L885.4 258.5L886.1 255.4L886.8 255.4L887.6 258.5L897.8 258.5L898.5 253.2L901.4 253.2L902.2 258.5L929.9 258.5L930.7 253.2L933.6 253.2L933.6 258.5Z" fill="#015585" stroke="#015585" stroke-width="1.1" stroke-linejoin="round"/>
<path d="M702.7 258.50H934.3" stroke="#015585" stroke-width="1.5"/>
<path d="M944.4 258.5L944.4 258.5L945.1 230.5L945.9 245.5L946.6 258.5L947.3 258.5L948.1 249.3L948.8 242.4L949.5 248.4L950.3 249.1L951.7 249.1L952.4 247.1L953.2 249.9L955.4 249.9L956.1 250L956.8 250L957.6 258.5L958.3 258.5L959 254L959.8 254L960.5 251.4L962.7 251.4L963.4 252.6L964.2 249.1L964.9 251.7L965.6 248.5L967.8 248.5L968.5 253.6L969.3 252.2L970 248.7L972.2 248.7L972.9 248.6L973.7 258.5L974.4 252.1L976.6 252.1L977.3 246.7L978.1 246.7L978.8 246.2L979.5 246.2L980.2 247.5L981 247.5L981.7 252L982.4 245.2L984.6 245.2L985.4 246.8L986.1 246.8L986.8 253.3L988.3 253.3L989 257.1L989.8 253.6L990.5 253.6L991.2 257.4L992 254.6L992.7 258.5L995.6 258.5L996.3 253.2L997.1 253.2L997.8 254.2L998.5 254.2L999.3 258.5L1003.7 258.5L1004.4 253.7L1005.1 253.9L1005.9 258.5L1006.6 258.5L1007.3 252.6L1008.8 252.6L1009.5 251.1L1011.7 251.1L1012.4 251L1013.2 251L1013.9 251.1L1014.6 251.1L1015.4 258.5L1016.8 258.5L1017.6 245.6L1019.8 245.6L1020.5 257L1021.2 246.6L1023.4 246.6L1024.1 250.4L1024.9 249.8L1025.6 249.8L1026.3 251.1L1027.1 251.1L1027.8 258.5L1028.5 253.6L1030.7 253.6L1031.5 250.9L1032.9 250.9L1033.7 251.7L1034.4 250.6L1035.8 250.6L1036.6 258.5L1039.5 258.5L1040.2 253.2L1041 253.2L1041.7 250.3L1042.4 253.2L1046.8 253.2L1047.6 250.3L1048.3 253.2L1052.7 253.2L1053.4 250.3L1054.1 253.2L1062.9 253.2L1063.6 258.5L1066.6 258.5L1067.3 250.3L1068 258.5L1089.3 258.5L1090 251.1L1092.9 251.1L1093.6 258.5L1109.7 258.5L1110.5 253.2L1111.2 258.5L1117.1 258.5L1117.8 253.2L1128.8 253.2L1129.5 258.5L1130.2 249.2L1131 257.1L1131.7 257.1L1132.4 253.7L1133.1 245.5L1134.6 245.5L1135.3 247.9L1137.5 247.9L1138.3 250L1139 251.3L1139.7 256L1140.5 250.7L1141.2 258.5L1146.3 258.5L1147 248.5L1147.8 258.5L1152.9 258.5L1153.6 253.5L1154.4 253.5L1155.1 258.5L1156.6 258.5L1157.3 250.3L1158 258.5L1169.7 258.5L1170.5 250.3L1171.2 250.3L1171.9 253.2L1185.8 253.2L1186.6 258.5L1193.9 258.5L1194.6 250.3L1195.3 258.5L1221.7 258.5L1222.4 250.1L1224.6 250.1L1225.3 249.8L1226.1 249.8L1226.8 253.7L1227.5 253.7L1228.3 249.7L1229.7 249.7L1230.4 248.5L1231.2 252.5L1231.9 252.5L1232.6 253.2L1240 253.2L1240.7 250.3L1243.6 250.3L1244.3 258.5L1245.1 253.2L1249.5 253.2L1250.2 258.5L1259 258.5L1259.7 250.3L1263.4 250.3L1264.1 258.5L1264.8 258.5L1265.6 246.1L1268.5 246.1L1269.2 258.5L1270 250.7L1270.7 250.6L1272.1 250.6L1272.9 251.8L1273.6 251.8L1274.3 250.3L1275.1 252L1277.3 252L1278 251.1L1280.2 251.1L1280.9 251L1281.7 258.5L1282.4 258.5L1283.1 249.5L1288.2 249.5L1289 258.5L1289.7 253.2L1302.9 253.2L1303.6 258.5L1417 258.5L1417.7 247L1418.5 258.5L1419.2 251.7L1419.9 251.5L1422.1 251.5L1422.9 251.8L1424.3 251.8L1425.1 258.5L1425.8 250.3L1426.5 258.5L1427.2 258.5L1428 253.2L1477.7 253.2L1478.5 258.5L1479.2 258.5L1479.9 250.3L1490.2 250.3L1490.9 258.5L1491.6 247L1492.4 258.5L1493.1 248.3L1499.7 248.3L1500.4 258.5L1640.9 258.5L1641.6 250.3L1658.4 250.3L1659.2 247.8L1667.9 247.8L1668.7 258.5L1669.4 258.5L1670.1 250.3L1689.9 250.3L1690.6 258.5L1691.3 253.2L1771.8 253.2L1772.6 250.3L1773.3 253.2L1776.9 253.2L1777.7 250.3L1778.4 253.2L1780.6 253.2L1780.6 258.5Z" fill="#568764" stroke="#568764" stroke-width="1.1" stroke-linejoin="round"/>
<path d="M943.7 258.50H1781.3" stroke="#568764" stroke-width="1.5"/>
<path d="M1791.4 258.5L1791.4 258.5L1792.1 249.3L1793.6 249.3L1794.3 258.5L1795.1 258.5L1795.8 246.9L1796.5 258.5L1797.3 247.9L1798 247.9L1798.7 258.5L1799.5 258.5L1800.2 249.9L1800.9 253.2L1801.7 253.2L1802.4 249.3L1803.1 249.3L1803.9 251.4L1804.6 251.4L1805.3 251.5L1806.1 251.5L1806.8 252.2L1809 252.2L1809.7 249.5L1810.5 249.5L1811.2 256.4L1811.9 256.4L1812.7 251.8L1813.4 251.8L1814.1 251.1L1814.9 251.1L1815.6 258.5L1817.1 258.5L1817.8 250.3L1821.5 250.3L1822.2 258.5L1824.4 258.5L1825.2 250.3L1825.9 258.5L1831.8 258.5L1832.5 250.3L1833.2 258.5L1853 258.5L1853.8 244.4L1854.5 245.8L1856 245.8L1856.7 258.5L1861.1 258.5L1861.8 250.3L1864.8 250.3L1865.5 253.2L1869.9 253.2L1870.6 258.5L1871.4 248.3L1872.1 258.5L1962.4 258.5L1963.1 253.2L1968.2 253.2L1969 258.5L1969.7 258.5L1970.4 248.3L1971.2 248.3L1971.9 258.5L1978.5 258.5L1979.2 253.2L1981.4 253.2L1982.2 258.5L1982.9 258.5L1983.6 250.6L1984.4 250.6L1985.1 249.4L1986.6 249.4L1987.3 249.1L1988 249.1L1988.8 249.6L1990.2 249.6L1991 250.1L1991.7 250.2L1992.4 250.2L1993.2 249.8L1993.9 249.8L1994.6 256.7L1995.4 250.7L1996.1 250.7L1996.8 258.5L1997.6 253.2L2028.4 253.2L2029.1 258.5L2029.9 248.3L2030.6 253.2L2037.2 253.2L2037.9 258.5L2038.7 247L2039.4 249.5L2040.1 246.5L2040.9 238.5L2041.6 226.5L2041.6 258.5Z" fill="#f52362" stroke="#f52362" stroke-width="1.1" stroke-linejoin="round"/>
<path d="M1790.7 258.50H2042.3" stroke="#f52362" stroke-width="1.5"/>
<path d="M42.4 308.5L43.1 308.5L43.9 300.9L44.6 308.5L55.5 308.5L56.2 300.9L56.9 300.9L57.6 308.5L62.7 308.5L63.5 300.9L64.9 300.9L65.6 308.5L66.4 300.9L68.5 300.9L69.3 308.5L75.8 308.5L76.5 300.9L77.3 300.9L78 308.5L78.7 300.9L79.4 300.9L80.2 308.5L92.5 308.5L93.2 300.9L94 308.5L99.8 308.5L100.5 300.9L101.2 308.5L150.6 308.5Z" fill="#405459" stroke="#405459" stroke-width="1.1" stroke-linejoin="round"/>
<path d="M41.7 308.50H151.3" stroke="#405459" stroke-width="1.5"/>
<path d="M161.4 308.5L170.9 308.5L171.7 300.9L176.1 300.9L176.8 308.5L180.5 308.5L181.2 300.9L184.1 300.9L184.9 308.5L186.3 308.5L187.1 300.9L187.8 300.9L188.5 308.5L189.3 308.5L190 300.9L191.5 300.9L192.2 308.5L198.8 308.5L199.5 300.9L200.3 308.5L206.1 308.5L206.9 300.9L207.6 308.5L208.3 308.5L209.1 300.9L209.8 308.5L210.5 308.5L211.3 300.9L212 308.5L212.7 308.5L213.5 300.9L214.2 308.5L216.4 308.5L217.1 300.9L218.6 300.9L219.3 308.5L243.5 308.5L244.3 300.9L245 308.5L256.7 308.5L257.4 300.9L258.2 308.5L266.2 308.5L267 300.9L267.7 308.5L282.4 308.5L283.1 300.9L286 300.9L286.8 308.5L294.1 308.5L294.8 300.9L295.6 308.5L313.2 308.5L313.9 300.9L314.6 308.5L512.6 308.5Z" fill="#da6a19" stroke="#da6a19" stroke-width="1.1" stroke-linejoin="round"/>
<path d="M160.7 308.50H513.3" stroke="#da6a19" stroke-width="1.5"/>
<path d="M523.4 308.5L530 308.5L530.7 300.9L532.9 300.9L533.6 308.5L549.6 308.5Z" fill="#59dbdc" stroke="#59dbdc" stroke-width="1.1" stroke-linejoin="round"/>
<path d="M522.7 308.50H550.3" stroke="#59dbdc" stroke-width="1.5"/>
<path d="M560.4 308.5L560.4 300.9L561.1 303.5L561.9 308.5L570.6 308.5Z" fill="#f75b5a" stroke="#f75b5a" stroke-width="1.1" stroke-linejoin="round"/>
<path d="M559.7 308.50H571.3" stroke="#f75b5a" stroke-width="1.5"/>
<path d="M581.4 308.5L584.3 308.5L585 300.9L585.8 308.5L586.5 308.5L587.2 300.9L587.9 308.5L588.7 308.5L589.4 300.9L590.1 308.5L598.1 308.5L598.8 300.9L599.6 308.5L600.3 300.9L601 308.5L602.5 308.5L603.2 300.9L603.9 308.5L658.4 308.5L659.2 300.9L659.9 308.5L692.6 308.5Z" fill="#9877dd" stroke="#9877dd" stroke-width="1.1" stroke-linejoin="round"/>
<path d="M580.7 308.50H693.3" stroke="#9877dd" stroke-width="1.5"/>
<path d="M703.4 308.5L715.1 308.5L715.8 300.9L716.6 308.5L717.3 300.9L718 308.5L718.7 308.5L719.5 300.9L720.2 308.5L720.9 300.9L721.7 308.5L724.6 308.5L725.3 300.9L727.5 300.9L728.2 308.5L730.4 308.5L731.2 297.1L731.9 308.5L743.6 308.5L744.3 300.9L745.1 308.5L748 308.5L748.7 300.9L750.2 300.9L750.9 308.5L759.7 308.5L760.4 300.9L762.6 300.9L763.3 308.5L796.2 308.5L796.9 300.9L797.7 308.5L802.1 308.5L802.8 300.9L803.5 308.5L830.6 308.5L831.3 297.1L832 308.5L887.6 308.5L888.3 300.9L889 308.5L933.6 308.5Z" fill="#015585" stroke="#015585" stroke-width="1.1" stroke-linejoin="round"/>
<path d="M702.7 308.50H934.3" stroke="#015585" stroke-width="1.5"/>
<path d="M944.4 308.5L947.3 308.5L948.1 300.9L948.8 308.5L954.6 308.5L955.4 300.9L956.1 308.5L962 308.5L962.7 300.9L963.4 308.5L970 308.5L970.7 300.9L971.5 308.5L979.5 308.5L980.2 300.9L981 300.9L981.7 297.1L982.4 300.9L983.2 300.9L983.9 308.5L985.4 308.5L986.1 300.9L986.8 308.5L989 308.5L989.8 300.9L990.5 308.5L993.4 308.5L994.1 300.9L994.9 300.9L995.6 308.5L996.3 308.5L997.1 300.9L997.8 300.9L998.5 308.5L1009.5 308.5L1010.2 300.9L1011 308.5L1015.4 308.5L1016.1 300.9L1018.3 300.9L1019 308.5L1048.3 308.5L1049 300.9L1049.7 308.5L1054.1 308.5L1054.9 300.9L1062.2 300.9L1062.9 308.5L1067.3 308.5L1068 300.9L1068.8 308.5L1080.5 308.5L1081.2 300.9L1087.8 300.9L1088.5 308.5L1089.3 308.5L1090 300.9L1090.7 300.9L1091.4 297.1L1092.2 300.9L1092.9 300.9L1093.6 308.5L1109.7 308.5L1110.5 300.9L1111.2 308.5L1149.2 308.5L1150 297.1L1150.7 300.9L1154.4 300.9L1155.1 308.5L1780.6 308.5Z" fill="#568764" stroke="#568764" stroke-width="1.1" stroke-linejoin="round"/>
<path d="M943.7 308.50H1781.3" stroke="#568764" stroke-width="1.5"/>
<path d="M1791.4 308.5L1791.4 271.5L1792.1 290.5L1792.9 304.5L1793.6 293.4L1795.8 293.4L1796.5 288.6L1797.3 288.6L1798 286.7L1798.7 299.6L1799.5 292.1L1801.7 292.1L1802.4 287.1L1804.6 287.1L1805.3 299.7L1806.1 307.7L1806.8 300.8L1807.5 300.8L1808.3 308.5L1809 292.9L1809.7 292.9L1810.5 291.5L1811.9 291.5L1812.7 296.2L1813.4 303.8L1814.1 288.5L1815.6 288.5L1816.3 297.4L1817.1 297.4L1817.8 290.5L1818.5 291.8L1820.7 291.8L1821.5 304.8L1822.2 304.8L1823 298.8L1823.7 298.8L1824.4 297.9L1825.2 302.1L1825.9 301.8L1826.6 301.8L1827.4 291.5L1828.1 289.5L1828.8 289.5L1829.6 296.8L1830.3 296.8L1831 296.3L1831.8 290.6L1834 290.6L1834.7 296.4L1835.4 296.4L1836.2 292.6L1836.9 292.6L1837.6 292.4L1838.4 292.4L1839.1 306.7L1839.8 296.8L1840.6 296.8L1841.3 295.7L1842 295.7L1842.8 296.9L1843.5 296.9L1844.2 299.5L1845 300.1L1845.7 300.1L1846.4 294.9L1847.2 294.9L1847.9 305.5L1848.6 305.5L1849.4 308.5L1850.1 291.3L1851.6 291.3L1852.3 297.3L1854.5 297.3L1855.2 301.1L1856 298L1856.7 308.5L1861.8 308.5L1862.6 287.5L1863.3 287.5L1864 287.3L1866.2 287.3L1867 295L1868.4 295L1869.2 299.1L1869.9 299.1L1870.6 297.8L1871.4 296.1L1874.3 296.1L1875 308.5L1883.8 308.5L1884.6 283.7L1886.1 283.7L1886.8 286.1L1889 286.1L1889.7 298.9L1890.5 298.9L1891.2 299.2L1891.9 300.8L1892.7 308.5L1893.4 300.9L1919.1 300.9L1919.8 308.5L1920.5 296.8L1938.9 296.8L1939.6 308.5L1940.3 294.2L1954.3 294.2L1955 308.5L1955.8 291.4L1960.2 291.4L1960.9 308.5L1961.6 288L1962.4 288L1963.1 308.5L1970.4 308.5L1971.2 291.7L1971.9 291.7L1972.6 291.8L1973.4 292.1L1974.1 293L1974.8 293L1975.6 297.6L1976.3 297.6L1977 299.4L1977.8 299.4L1978.5 294.9L1979.2 288.2L1980 287.5L1980.7 287.5L1981.4 288.2L1982.2 285.3L1984.4 285.3L1985.1 299.2L1985.8 298.4L1986.6 297.2L1988.8 297.2L1989.5 297.1L1990.2 296.2L1991 296.2L1991.7 293.3L1993.2 293.3L1993.9 294L1994.6 295.2L1995.4 296.6L1996.1 296.6L1996.8 308.5L1997.6 300.9L2003.4 300.9L2004.2 308.5L2004.9 285.1L2005.6 285.1L2006.4 308.5L2007.1 308.5L2007.8 296.8L2015.2 296.8L2015.9 308.5L2016.7 294.2L2020.3 294.2L2021.1 308.5L2021.8 291.8L2022.5 291.8L2023.3 291.7L2024.7 291.7L2025.5 292.1L2026.2 292.1L2026.9 291.2L2027.7 291.9L2028.4 291.9L2029.1 291.4L2030.6 291.4L2031.3 308.5L2032.1 299.6L2032.8 299.6L2033.5 308.5L2034.3 308.5L2035 293L2036.5 293L2037.2 297.6L2037.9 297.6L2038.7 295.3L2039.4 295.3L2040.1 294.9L2040.9 294.9L2041.6 308.5L2041.6 308.5Z" fill="#f52362" stroke="#f52362" stroke-width="1.1" stroke-linejoin="round"/>
<path d="M1790.7 308.50H2042.3" stroke="#f52362" stroke-width="1.5"/>
<path d="M42.4 358.5L42.4 358.5L43.1 346.1L43.9 358.5L56.9 358.5L57.6 346.1L58.4 358.5L64.9 358.5L65.6 346.1L66.4 358.5L74.4 358.5L75.1 346.1L75.8 358.5L99 358.5L99.8 346.1L100.5 358.5L102.7 358.5L103.4 346.1L104.1 358.5L150.6 358.5Z" fill="#405459" stroke="#405459" stroke-width="1.1" stroke-linejoin="round"/>
<path d="M41.7 358.50H151.3" stroke="#405459" stroke-width="1.5"/>
<path d="M161.4 358.5L167.3 358.5L168 346.1L168.7 358.5L180.5 358.5L181.2 346.1L181.9 358.5L182.7 358.5L183.4 346.1L184.1 358.5L185.6 358.5L186.3 346.1L187.1 358.5L187.8 358.5L188.5 346.1L189.3 358.5L190 346.1L190.7 358.5L235.5 358.5L236.2 346.1L236.9 358.5L241.3 358.5L242.1 346.1L242.8 358.5L275 358.5L275.8 346.1L276.5 346.1L277.2 358.5L308.8 358.5L309.5 346.1L310.2 358.5L512.6 358.5Z" fill="#da6a19" stroke="#da6a19" stroke-width="1.1" stroke-linejoin="round"/>
<path d="M160.7 358.50H513.3" stroke="#da6a19" stroke-width="1.5"/>
<path d="M523.4 358.5L523.4 346.1L524.1 358.5L549.6 358.5Z" fill="#59dbdc" stroke="#59dbdc" stroke-width="1.1" stroke-linejoin="round"/>
<path d="M522.7 358.50H550.3" stroke="#59dbdc" stroke-width="1.5"/>
<path d="M560.4 358.5L560.4 358.5L561.1 346.1L561.9 358.5L570.6 358.5Z" fill="#f75b5a" stroke="#f75b5a" stroke-width="1.1" stroke-linejoin="round"/>
<path d="M559.7 358.50H571.3" stroke="#f75b5a" stroke-width="1.5"/>
<path d="M581.4 358.5L582.1 358.5L582.9 326.9L583.6 358.5L587.9 358.5L588.7 346.1L589.4 358.5L590.1 358.5L590.8 346.1L591.6 358.5L593 358.5L593.8 346.1L594.5 358.5L595.2 358.5L595.9 346.1L596.7 358.5L611.2 358.5L611.9 346.1L614.8 346.1L615.6 358.5L619.2 358.5L619.9 346.1L620.6 358.5L621.4 346.1L622.1 358.5L627.9 358.5L628.6 339.2L629.4 358.5L690.4 358.5L691.1 346.1L691.9 358.5L692.6 358.5Z" fill="#9877dd" stroke="#9877dd" stroke-width="1.1" stroke-linejoin="round"/>
<path d="M580.7 358.50H693.3" stroke="#9877dd" stroke-width="1.5"/>
<path d="M703.4 358.5L933.6 358.5ZM703.1 358.5L703.1 358.5L704.3 357.2L704.8 339.4L709.2 338.9L710.2 330.3L711.5 330.8L712.2 348.6L713.2 327.2L714.5 327.7L715.8 346.5L716.3 358.5L717.8 358.5L718.3 346L719.6 346L720.4 324.1L721.6 324.1L722.1 333.8L723.7 333.8L724.4 330.3L725.2 330.8L726 358.5L727.7 358.5L728.5 346L729.8 346L730.5 339.2L731.6 339.4L732.6 358.5L737.2 358.5L738.2 346L741.5 346L742.5 358.5L744 339.2L745.8 339.4L747.3 358.5L748.3 346L750.4 345.5L751.4 327.2L752.4 327.2L753.4 345.5L754.2 339.2L755 345.5L756.5 346.5L757.5 339.4L759 339.4L760 358.5L761.8 346.5L763.1 339.2L764.4 339.4L765.6 358.5L771 358.5L771.5 333.8L772.5 334.3L773.5 358.5L774.3 330.3L775.8 330.3L776.6 358.5L779.9 358.5L781.4 338.9L783.5 339.4L784.5 345L786.5 346L787.5 352.6L788.5 339.4L789.6 339.4L790.6 358.5L793.6 358.5L795.2 333.8L796.4 333.8L797.2 338.9L799 338.9L799.5 334.3L800.5 334.3L801.3 338.9L802.8 339.4L803.8 321.9L804.8 321.9L805.3 346L806.8 346L807.8 358.5L812.1 358.5L813.4 346L814.7 339.2L815.7 339.2L816.5 345L817.5 345.5L818.7 332.8L819.5 326.7L820.3 327.2L821 333.6L823.6 333.8L824.3 338.9L825.4 339.4L826.4 350.6L827.1 333.8L828.2 334.3L828.9 358.5L829.9 358.5L831 346L833 346L834 358.5L835.8 358.5L836.8 346L838.3 346L839.4 358.5L841.6 358.5L842.7 346L844.2 345.5L845.2 338.9L846.5 338.9L847.2 345.8L848.8 345.5L849.5 338.9L850.3 339.4L851.3 346L852.6 346L854.1 358.5L855.1 358.5L856.1 346L857.9 346L858.9 358.5L868.1 358.5L869.1 339.2L870.6 339.4L872.2 333.8L872.7 334.3L873.7 345.8L875.7 345.8L877.3 338.9L880.3 338.9L881.3 342.5L882.4 339.2L883.6 338.9L884.6 333.8L885.4 334.3L886.9 345.8L888.2 346L889 358.5L900.2 358.5L901.2 338.9L902.2 339.4L903 345.9L910.8 345.9L912.4 333.8L914.7 333.6L915.7 358.5L932.4 358.5L933.3 326.8L934 326.8L934 358.5Z" fill="#015585" stroke="#015585" stroke-width="1.1" stroke-linejoin="round"/>
<path d="M702.7 358.50H934.3" stroke="#015585" stroke-width="1.5"/>
<path d="M944.4 358.5L947.3 358.5L948.1 346.1L948.8 358.5L952.4 358.5L953.2 327.7L953.9 327.7L954.6 331.6L956.1 331.6L956.8 336.5L958.3 336.5L959 339.1L959.8 338.7L960.5 358.5L961.2 334.5L962 346.1L966.3 346.1L967.1 358.5L970 358.5L970.7 346.1L973.7 346.1L974.4 334.5L975.1 346.1L977.3 346.1L978.1 358.5L982.4 358.5L983.2 346.1L983.9 358.5L986.8 358.5L987.6 346.1L988.3 358.5L989.8 358.5L990.5 346.1L991.2 358.5L992 346.1L992.7 358.5L993.4 358.5L994.1 346.1L994.9 358.5L998.5 358.5L999.3 339.2L1000 358.5L1005.1 358.5L1005.9 334.5L1006.6 358.5L1012.4 358.5L1013.2 346.1L1013.9 358.5L1035.1 358.5L1035.8 346.1L1038 346.1L1038.8 358.5L1046.1 358.5L1046.8 346.1L1051.2 346.1L1051.9 358.5L1052.7 339.2L1053.4 358.5L1062.9 358.5L1063.6 346.1L1064.4 346.1L1065.1 358.5L1065.8 334.5L1066.6 358.5L1068 358.5L1068.8 346.1L1074.6 346.1L1075.4 358.5L1076.1 330.1L1076.8 358.5L1141.9 358.5L1142.7 338.4L1143.4 339.3L1144.9 339.3L1145.6 346.1L1146.3 345.9L1147 358.5L1148.5 358.5L1149.2 346.1L1150 346.1L1150.7 358.5L1321.2 358.5L1321.9 336L1322.6 336L1323.4 340.4L1324.1 340.4L1324.8 346.4L1327 346.4L1327.7 343.1L1328.5 335.6L1329.2 335.6L1329.9 339L1330.7 339L1331.4 338.3L1332.1 358.5L1403.8 358.5L1404.6 346.1L1414.1 346.1L1414.8 358.5L1415.5 339.2L1417 339.2L1417.7 358.5L1423.6 358.5L1424.3 334.5L1425.1 358.5L1425.8 346.1L1430.2 346.1L1430.9 358.5L1770.4 358.5L1771.1 334.5L1771.8 334.5L1772.6 358.5L1773.3 358.5L1774 339.2L1776.2 339.2L1776.9 358.5L1777.7 346.1L1780.6 346.1L1780.6 358.5Z" fill="#568764" stroke="#568764" stroke-width="1.1" stroke-linejoin="round"/>
<path d="M943.7 358.50H1781.3" stroke="#568764" stroke-width="1.5"/>
<path d="M1791.4 358.5L1791.4 358.5L1792.1 346.1L1792.9 358.5L1796.5 358.5L1797.3 346.1L1798 358.5L1815.6 358.5L1816.3 346.1L1819.3 346.1L1820 358.5L1826.6 358.5L1827.4 346.1L1828.1 358.5L1832.5 358.5L1833.2 346.1L1834 358.5L2041.6 358.5Z" fill="#f52362" stroke="#f52362" stroke-width="1.1" stroke-linejoin="round"/>
<path d="M1790.7 358.50H2042.3" stroke="#f52362" stroke-width="1.5"/>
<path d="M42.4 408.5L42.4 408.5L43.1 402.4L43.9 408.5L44.6 408.5L45.3 402.4L46 402.4L46.8 408.5L48.2 408.5L48.9 402.4L49.7 408.5L51.8 408.5L52.6 402.4L53.3 408.5L54 402.4L54.7 408.5L55.5 402.4L56.2 408.5L57.6 408.5L58.4 402.4L59.1 408.5L59.8 402.4L60.6 408.5L63.5 408.5L64.2 402.4L64.9 408.5L65.6 402.4L66.4 408.5L67.1 402.4L67.8 408.5L71.4 408.5L72.2 402.4L72.9 408.5L73.6 402.4L74.4 408.5L75.1 408.5L75.8 402.4L76.5 408.5L79.4 408.5L80.2 402.4L80.9 402.4L81.6 408.5L83.1 408.5L83.8 402.4L84.5 408.5L87.4 408.5L88.1 402.4L88.9 408.5L101.2 408.5L101.9 402.4L102.7 408.5L150.6 408.5Z" fill="#405459" stroke="#405459" stroke-width="1.1" stroke-linejoin="round"/>
<path d="M41.7 408.50H151.3" stroke="#405459" stroke-width="1.5"/>
<path d="M161.4 408.5L161.4 408.5L162.1 388.5L162.9 388.5L163.6 408.5L164.3 402.4L165.1 408.5L165.8 408.5L166.5 402.4L167.3 408.5L168 408.5L168.7 402.4L169.5 408.5L173.9 408.5L174.6 402.4L175.3 402.4L176.1 399.5L176.8 402.4L177.5 408.5L184.1 408.5L184.9 399.5L185.6 408.5L190.7 408.5L191.5 402.4L192.2 408.5L195.9 408.5L196.6 402.4L197.3 408.5L199.5 408.5L200.3 399.5L201 408.5L205.4 408.5L206.1 402.4L206.9 408.5L213.5 408.5L214.2 402.4L216.4 402.4L217.1 408.5L218.6 408.5L219.3 399.5L220.1 408.5L221.5 408.5L222.3 399.5L223 408.5L226.7 408.5L227.4 402.4L228.1 408.5L232.5 408.5L233.3 402.4L234 408.5L234.7 408.5L235.5 402.4L236.2 408.5L240.6 408.5L241.3 402.4L245.7 402.4L246.5 408.5L247.9 408.5L248.7 402.4L249.4 408.5L250.1 408.5L250.8 402.4L251.6 408.5L257.4 408.5L258.2 402.4L258.9 408.5L264 408.5L264.8 402.4L265.5 408.5L266.2 402.4L267 408.5L271.4 408.5L272.1 402.4L272.8 408.5L274.3 408.5L275 402.4L275.8 402.4L276.5 408.5L285.3 408.5L286 402.4L286.8 408.5L288.2 408.5L289 402.4L289.7 408.5L312.4 408.5L313.2 402.4L317.6 402.4L318.3 408.5L340.3 408.5L341 402.4L344.7 402.4L345.4 408.5L486.9 408.5L487.7 402.4L488.4 408.5L508.2 408.5L508.9 402.4L512.6 402.4L512.6 408.5Z" fill="#da6a19" stroke="#da6a19" stroke-width="1.1" stroke-linejoin="round"/>
<path d="M160.7 408.50H513.3" stroke="#da6a19" stroke-width="1.5"/>
<path d="M523.4 408.5L524.1 408.5L524.9 402.4L526.3 402.4L527 408.5L532.9 408.5L533.6 402.4L534.3 408.5L539.4 408.5L540.1 402.4L540.9 408.5L546 408.5L546.7 402.4L547.4 402.4L548.1 408.5L549.6 408.5Z" fill="#59dbdc" stroke="#59dbdc" stroke-width="1.1" stroke-linejoin="round"/>
<path d="M522.7 408.50H550.3" stroke="#59dbdc" stroke-width="1.5"/>
<path d="M560.4 408.5L560.4 402.4L561.1 402.4L561.9 408.5L570.6 408.5Z" fill="#f75b5a" stroke="#f75b5a" stroke-width="1.1" stroke-linejoin="round"/>
<path d="M559.7 408.50H571.3" stroke="#f75b5a" stroke-width="1.5"/>
<path d="M581.4 408.5L692.6 408.5ZM581.3 408.5L581.3 408.5L581.4 374.3L582.6 374.3L583.2 378.1L584.3 378.9L585.1 406.8L585.9 406.8L586.5 374.6L587.6 375.4L588.4 386.6L589.2 373.2L590 374L591.1 386.6L592.2 373.2L593.3 375.1L594.4 376.2L595.2 381.7L596.3 381.1L597.4 377.3L598.8 390.9L600.4 390.9L601.5 372.9L602.6 372.9L603.4 378.4L605.3 379.5L606.4 391.5L607.5 374.3L608.3 375.1L609.4 377.3L610.5 371.8L611.3 372.4L612.4 386.6L613.5 383.3L614.6 384.4L616.2 380L617.3 379.5L618.4 380.6L619.5 390.9L620.6 384.9L621.7 374.8L622.8 375.6L623.6 377.8L624.4 376.7L626.1 383.3L627.2 383.3L629.3 377.3L630.4 380L632.1 381.1L633.4 381.1L634.8 378.9L636.2 382.2L637.5 386.6L639.7 387.1L640.8 384.4L643 381.7L644.1 375.6L645.7 372.4L646.5 373.5L647.4 380.8L649 380.8L650.6 379.5L652.3 380L653.6 378.4L654.7 378.9L655.6 390.9L656.4 396.9L657.2 390.9L658.3 380.3L659.4 380.6L660.2 387.7L661.6 382.2L663.5 378.4L664.3 378.1L665.4 373.5L666.2 374L667.3 389.8L669.5 380L671.7 377.8L672.2 386.6L674.1 383.8L676.3 385.5L678 382.2L680.7 382.5L682.3 380L684.5 383.3L685.9 387.1L687.2 383.3L689.4 381.7L690.5 408.5L690.5 408.5Z" fill="#9877dd" stroke="#9877dd" stroke-width="1.1" stroke-linejoin="round"/>
<path d="M580.7 408.50H693.3" stroke="#9877dd" stroke-width="1.5"/>
<path d="M703.4 408.5L804.2 408.5L805 402.4L805.7 408.5L813 408.5L813.7 398.3L814.5 396.1L815.2 396.1L815.9 400.2L817.4 400.2L818.1 403.6L818.9 408.5L825.4 408.5L826.2 400.5L826.9 400.5L827.6 408.5L828.4 408.5L829.1 399.5L829.8 399.5L830.6 408.5L834.2 408.5L834.9 402.4L835.7 408.5L842.3 408.5L843 402.4L843.7 408.5L932.9 408.5L933.6 391.5L933.6 408.5ZM703.7 408.5L703.7 408.5L704.2 402.3L705.1 376.3L706.6 376.3L707.8 396.9L708.8 396.9L709.8 395.9L710.3 385.6L711.5 386.1L712.5 395L713.5 384.5L714.5 384L715.2 387.1L716.4 387.3L717.1 389.1L718.6 389.1L719.1 401.8L720.6 402.3L721.3 405.2L722 391L722.8 391.3L724 396.9L725 388.1L726 388.1L726.7 395.4L727.2 375.8L728.7 376.3L729.4 401.8L730.4 402.8L731.4 383.7L732.3 377.3L733.8 379.3L734.8 381.2L735.3 406.7L736.3 406.2L737.5 396.4L739.7 388.1L740.7 388.1L741.6 389.6L742.4 382.7L743.4 380.8L744.1 381.2L745.3 406.7L746.3 390.1L747.5 387.6L748.5 388.1L750.5 406.7L751.2 399.4L752.4 397.9L753.4 396.4L754.4 396.4L754.9 389.1L755.6 389.1L756.6 396.9L757.6 396.9L758.8 408.5L761.2 408.5L762.5 402.3L763.7 408.5L765.7 408.5L766.6 395.4L767.6 393L768.6 394.5L769.6 392L773.5 392L775 393.2L776.9 391L777.9 388.1L778.6 388.1L779.4 391.5L781.3 389.1L782.3 389.1L782.8 402.3L784.3 402.3L785.3 408.5L787.7 408.5L788.2 402.3L792.8 402.3L793.3 408.5L793.3 408.5Z" fill="#015585" stroke="#015585" stroke-width="1.1" stroke-linejoin="round"/>
<path d="M702.7 408.50H934.3" stroke="#015585" stroke-width="1.5"/>
<path d="M944.4 408.5L951 408.5L951.7 392L952.4 408.5L953.2 402.5L953.9 408.5L956.8 408.5L957.6 402.4L959.8 402.4L960.5 408.5L964.2 408.5L964.9 399.5L967.8 399.5L968.5 408.5L972.9 408.5L973.7 402.4L974.4 408.5L976.6 408.5L977.3 402.4L978.1 408.5L983.9 408.5L984.6 402.4L985.4 408.5L986.8 408.5L987.6 402.4L988.3 408.5L989 402.4L989.8 408.5L990.5 402.4L991.2 408.5L993.4 408.5L994.1 402.4L996.3 402.4L997.1 397L997.8 402.4L1000 402.4L1000.7 408.5L1005.1 408.5L1005.9 402.4L1006.6 408.5L1010.2 408.5L1011 402.4L1011.7 402.4L1012.4 408.5L1013.2 408.5L1013.9 402.4L1016.1 402.4L1016.8 408.5L1024.9 408.5L1025.6 402.4L1026.3 408.5L1030.7 408.5L1031.5 402.4L1032.2 408.5L1037.3 408.5L1038 402.4L1038.8 402.4L1039.5 408.5L1040.2 408.5L1041 402.4L1043.9 402.4L1044.6 408.5L1062.2 408.5L1062.9 402.4L1063.6 408.5L1067.3 408.5L1068 402.4L1068.8 408.5L1109.7 408.5L1110.5 402.4L1111.2 408.5L1116.3 408.5L1117.1 402.4L1117.8 408.5L1139.7 408.5L1140.5 402.4L1145.6 402.4L1146.3 408.5L1153.6 408.5L1154.4 402.4L1155.1 408.5L1169.7 408.5L1170.5 402.4L1179.2 402.4L1180 408.5L1249.5 408.5L1250.2 402.4L1270 402.4L1270.7 399.5L1271.4 402.4L1283.1 402.4L1283.9 408.5L1302.9 408.5L1303.6 399.5L1304.3 402.4L1308.7 402.4L1309.5 408.5L1780.6 408.5Z" fill="#568764" stroke="#568764" stroke-width="1.1" stroke-linejoin="round"/>
<path d="M943.7 408.50H1781.3" stroke="#568764" stroke-width="1.5"/>
<path d="M1791.4 408.5L1791.4 408.5L1792.1 402.4L1792.9 408.5L1793.6 408.5L1794.3 399.5L1795.1 408.5L1799.5 408.5L1800.2 402.4L1800.9 408.5L1807.5 408.5L1808.3 402.4L1809 408.5L1814.9 408.5L1815.6 402.4L1816.3 408.5L1825.9 408.5L1826.6 402.4L1827.4 408.5L1853.8 408.5L1854.5 401.5L1855.2 399.5L1856 408.5L1972.6 408.5L1973.4 402.4L1982.2 402.4L1982.9 408.5L2041.6 408.5Z" fill="#f52362" stroke="#f52362" stroke-width="1.1" stroke-linejoin="round"/>
<path d="M1790.7 408.50H2042.3" stroke="#f52362" stroke-width="1.5"/>
<path d="M42.4 458.5L44.6 458.5L45.3 443.2L46 443.2L46.8 442.3L47.5 442.3L48.2 458.5L50.4 458.5L51.1 456.5L51.8 456.5L52.6 441.9L53.3 444.4L54 444.4L54.7 450.3L55.5 451.1L56.2 452.2L57.6 452.2L58.4 450.6L59.1 458.5L59.8 443L60.6 458.5L61.3 447.1L62.7 447.1L63.5 458.5L65.6 458.5L66.4 452.1L67.1 458.5L70 458.5L70.7 452.1L75.1 452.1L75.8 458.5L78.7 458.5L79.4 446L80.2 446L80.9 458.5L88.1 458.5L88.9 452.1L89.6 458.5L96.9 458.5L97.6 444.3L98.3 458.5L99 458.5L99.8 452.1L101.9 452.1L102.7 458.5L104.1 458.5L104.9 448.8L105.6 448.8L106.3 458.5L108.5 458.5L109.2 447.4L111.4 447.4L112.1 452.9L112.8 452.9L113.6 450.4L114.3 451.7L116.5 451.7L117.2 451.5L117.9 451.7L118.6 451.7L119.4 452.9L120.1 452.2L120.8 452.2L121.6 458.5L131 458.5L131.7 452.1L132.4 458.5L150.6 458.5Z" fill="#405459" stroke="#405459" stroke-width="1.1" stroke-linejoin="round"/>
<path d="M41.7 458.50H151.3" stroke="#405459" stroke-width="1.5"/>
<path d="M161.4 458.5L274.3 458.5L275 452.1L275.8 458.5L281.6 458.5L282.4 452.1L283.1 458.5L286 458.5L286.8 448.8L288.2 448.8L289 458.5L317.6 458.5L318.3 452.1L328.6 452.1L329.3 448.8L330 452.1L337.4 452.1L338.1 458.5L511.1 458.5L511.9 452.1L512.6 458.5L512.6 458.5ZM161.6 458.5L161.6 458.5L162.3 436.8L163.9 437.1L164.6 450.6L165.6 456.7L166.4 444.2L167.4 445.2L168.2 449L169.7 448.5L170.5 454.1L171.5 452.1L172.5 454.6L173.3 449L174.3 449L175 457.2L176.1 457.2L177.1 448.5L178.1 452.1L181.7 452.1L182.4 446.2L183.2 446.8L184 452.6L187 452.1L188.5 454.6L190.6 452.1L191.3 448.5L192.4 450.6L193.6 452.1L194.6 452.6L195.7 455.1L196.7 452.1L198.7 452.6L199.7 454.6L200.7 452.1L202.3 448.5L203 454.6L203.8 456.7L204.8 449L205.8 449L206.9 454.1L208.1 449L209.4 452.1L211.9 452.1L213.2 446.2L214.5 448.3L216.5 448.5L217.3 452.1L220.3 452.6L221.4 457.2L223.9 457.2L224.4 452.1L225.7 452.6L226.4 455.1L227.2 452.1L228.7 452.1L229.5 449L230.5 449L231.3 457.2L232.8 457.2L233.3 448.8L234.3 449L235.4 457.2L237.9 457.2L238.4 452.1L241.5 452.6L242.5 457.2L245.5 457.2L246.3 452.1L247.6 454.6L248.6 452.1L249.3 449L250.4 449L251.1 452.1L253.7 452.6L254.4 457.2L255.2 452.1L257.5 452.6L258.5 457.2L263.3 457.2L264.1 452.1L265.4 452.6L266.6 458.5L266.6 458.5Z" fill="#da6a19" stroke="#da6a19" stroke-width="1.1" stroke-linejoin="round"/>
<path d="M160.7 458.50H513.3" stroke="#da6a19" stroke-width="1.5"/>
<path d="M523.4 458.5L523.4 452.1L525.6 452.1L526.3 458.5L527.8 458.5L528.5 446.3L530 446.3L530.7 458.5L531.4 448.8L533.6 448.8L534.3 458.5L535.8 458.5L536.5 448.8L537.2 458.5L538 458.5L538.7 452.1L539.4 458.5L547.4 458.5L548.1 452.1L548.9 458.5L549.6 458.5Z" fill="#59dbdc" stroke="#59dbdc" stroke-width="1.1" stroke-linejoin="round"/>
<path d="M522.7 458.50H550.3" stroke="#59dbdc" stroke-width="1.5"/>
<path d="M560.4 458.5L560.4 439.4L561.1 448.5L561.9 458.5L562.6 455.5L563.3 458.5L564.8 458.5L565.5 452.1L566.2 458.5L570.6 458.5Z" fill="#f75b5a" stroke="#f75b5a" stroke-width="1.1" stroke-linejoin="round"/>
<path d="M559.7 458.50H571.3" stroke="#f75b5a" stroke-width="1.5"/>
<path d="M581.4 458.5L692.6 458.5ZM581.3 458.5L581.3 458.5L581.4 426.2L582.6 429.5L583.2 438.8L584.6 437.1L585.4 421.6L587.6 421.6L588.1 428.1L590.3 428.4L591.1 429.7L592.5 430.6L593.3 432.2L595.7 430.3L596.6 431.7L597.4 428.1L599.6 434.4L600.7 428.4L602.6 428.1L603.9 427.3L605 429.7L606.4 428.1L607.5 428.4L608.3 434.1L609.7 432.5L610.8 432.5L611.6 426.2L613 425.6L614 424.3L615.7 424.3L617 430.6L618.4 429.2L619.8 430L620.3 434.4L622.2 432.2L623.6 428.9L625.2 427.6L626.9 431.9L628.8 431.4L630.4 431.4L631.8 432.2L632.6 431.1L634.3 429.2L635.9 429.2L637.5 427.3L638.6 427.8L639.4 430.6L642.7 431.1L643.5 434.4L644.6 432.7L646.3 424.8L647.1 425.6L648.2 433L649 432.7L650.6 428.4L651.7 427.8L653.1 428.9L655 428.9L656.9 431.1L658.8 430.8L660.2 428.4L661.3 431.9L663.2 432.7L665.4 433.8L667 431.1L668.1 424L669.5 425.1L670.3 431.7L671.4 427.3L672.5 430.6L674.7 430.8L675.5 432.2L678 432.2L679.3 427.8L681.2 429.7L683.4 430L684.5 434.4L685.9 430.6L687.5 429.5L688.9 431.9L690.5 432.7L691.3 428.9L692.7 429.2L693.2 434.9L693.7 458.5L693.7 458.5Z" fill="#9877dd" stroke="#9877dd" stroke-width="1.1" stroke-linejoin="round"/>
<path d="M580.7 458.50H693.3" stroke="#9877dd" stroke-width="1.5"/>
<path d="M703.4 458.5L933.6 458.5ZM703.4 458.5L703.4 458.5L703.9 447.4L705.1 437.1L705.9 436.6L706.4 433.2L708.1 432.2L708.8 432.7L709.3 440.1L710 431.2L711.5 431.2L712.2 423.9L713.7 423.9L714.7 434.6L716.4 435.4L717.1 425.4L718.6 425.4L719.1 437.1L720.1 437.6L721.3 429.3L722.5 428.3L723.5 431.7L724.5 429.3L725.5 429.3L726.5 440.5L727.4 439.1L728.2 437.6L729.4 432.2L730.6 434L731.4 439.1L732.3 435.4L733.3 434L734.3 437.6L735.3 430.2L737.2 429.2L738.7 430.2L739.7 432.2L740.4 428.3L741.6 429.3L742.6 437.6L743.6 437.6L744.6 440.5L745.6 450.3L747 439.1L748.5 434L749.5 433.7L750.5 444.5L751.4 434.6L752.9 434L753.6 429.3L754.6 430.2L755.4 435.4L756.8 435.4L758.1 429.3L759.3 430.2L760 445.9L761.2 448.4L762.5 449.8L763.4 443L764.7 443.5L765.9 445.9L766.9 445.4L767.6 441L768.6 436.6L769.6 436.6L770.6 442L771.3 431.2L772.5 431.2L773.5 440.5L774.5 438.6L775.5 431.2L776.7 431.7L777.4 432.7L778.4 432.7L779.9 435.4L781.3 435.4L782.3 434.6L784.3 436.6L785.3 440.1L786.2 440.5L787.2 431.2L787.9 440.5L788.7 432.2L789.5 432.2L790.2 431.2L790.9 440.1L791.9 440.1L792.9 430.2L794.4 431.2L795.3 432.7L796.6 432.7L797.3 440.5L799.3 438.1L801.7 436.1L802.7 429.3L804.2 430.2L806.1 431.7L807.4 426.8L808.6 426.8L809.3 436.6L810.3 430.2L811.5 430.8L812.5 433.5L814.2 437.6L815.9 436.1L822.3 435.4L823.5 429.8L825 430.2L826 434.6L826.7 456.7L827.7 456.7L828.4 443L830.1 447.4L831.4 445.9L833.1 449.8L834.3 440.5L835 456.7L836.5 433.5L837.5 430.2L838.7 430.8L839.4 458.5L841.7 458.5L842.4 448.9L844.8 444.5L846.3 447.9L848 441.5L850.2 444.5L854.6 444.5L856.4 457.2L858.1 437.6L859.1 438.6L860.5 438.1L862 443L863.9 444.5L865.4 445.4L866.4 447.9L867.6 444.5L869.3 440.1L870.8 438.6L872.3 440.5L873.5 446.9L874.2 439.1L875.2 438.6L876 441L877 441.5L878.4 444.5L879.4 443L880.7 443.2L881.4 439.6L882.9 438.6L884.3 430.2L885.8 431.2L887 432.7L888.2 433.2L890 451.8L891.4 451.8L893.1 439.1L894.4 439.6L895.4 446.9L896.6 443.5L897.8 443L899 433.5L900 435.6L901.5 437.1L902.2 446.4L903.9 445.9L905.4 444L906.6 442.5L907.6 427.3L908.6 427.3L909.8 430.2L911.3 431.7L913.2 433.5L914.7 434.9L916.4 433.5L917.4 451.3L918.9 451.8L919.6 448.9L921.8 447.9L922.5 439.1L923.8 438.6L924.8 442L926 442L928.4 443.5L929.2 458.5L932.3 458.5L933.3 440.1L934 435.6L934 458.5Z" fill="#015585" stroke="#015585" stroke-width="1.1" stroke-linejoin="round"/>
<path d="M702.7 458.50H934.3" stroke="#015585" stroke-width="1.5"/>
<path d="M944.4 458.5L945.1 458.5L945.9 448.8L946.6 458.5L950.3 458.5L951 436.5L951.7 458.5L952.4 438.9L953.2 458.5L953.9 458.5L954.6 449.6L956.8 449.6L957.6 455.1L958.3 445.4L960.5 445.4L961.2 448.5L962 451.7L962.7 458.5L963.4 440.5L964.2 458.5L964.9 458.5L965.6 450.5L966.3 450.5L967.1 452.3L967.8 452.3L968.5 452.6L969.3 452.6L970 458.5L972.2 458.5L972.9 443.3L973.7 458.5L976.6 458.5L977.3 446.3L978.8 446.3L979.5 458.5L982.4 458.5L983.2 448.8L983.9 458.5L984.6 458.5L985.4 452L986.1 452L986.8 452.3L989 452.3L989.8 458.5L992.7 458.5L993.4 451.9L994.1 451.8L994.9 451.8L995.6 452.1L996.3 458.5L1000 458.5L1000.7 452.1L1001.5 458.5L1003.7 458.5L1004.4 443L1005.1 458.5L1005.9 458.5L1006.6 452.1L1007.3 452.1L1008 458.5L1010.2 458.5L1011 452.1L1011.7 448.8L1012.4 452.1L1023.4 452.1L1024.1 458.5L1026.3 458.5L1027.1 448.8L1027.8 458.5L1038 458.5L1038.8 446.3L1041 446.3L1041.7 458.5L1042.4 452.1L1043.9 452.1L1044.6 458.5L1049 458.5L1049.7 452.1L1054.1 452.1L1054.9 458.5L1068 458.5L1068.8 452.1L1072.4 452.1L1073.2 458.5L1110.5 458.5L1111.2 452.1L1125.8 452.1L1126.6 458.5L1127.3 448.8L1129.5 448.8L1130.2 458.5L1131 452.1L1140.5 452.1L1141.2 458.5L1153.6 458.5L1154.4 452.1L1155.1 458.5L1157.3 458.5L1158 448.8L1158.8 448.8L1159.5 458.5L1160.2 452.1L1170.5 452.1L1171.2 458.5L1178.5 458.5L1179.2 446.3L1180 458.5L1180.7 452.1L1185.8 452.1L1186.6 458.5L1308 458.5L1308.7 452.1L1319 452.1L1319.7 458.5L1320.4 448.8L1321.2 448.8L1321.9 458.5L1780.6 458.5Z" fill="#568764" stroke="#568764" stroke-width="1.1" stroke-linejoin="round"/>
<path d="M943.7 458.50H1781.3" stroke="#568764" stroke-width="1.5"/>
<path d="M1791.4 458.5L1791.4 458.5L1792.1 448.8L1792.9 448.8L1793.6 458.5L1794.3 452.4L1796.5 452.4L1797.3 452.2L1798 452.1L1798.7 452.3L1800.2 452.3L1800.9 458.5L1802.4 458.5L1803.1 452.1L1803.9 458.5L1809.7 458.5L1810.5 448.8L1814.1 448.8L1814.9 458.5L1819.3 458.5L1820 452.1L1820.7 458.5L1821.5 458.5L1822.2 452.1L1823 458.5L1823.7 458.5L1824.4 452.1L1825.2 458.5L1825.9 458.5L1826.6 452.1L1827.4 458.5L1833.2 458.5L1834 452.1L1839.8 452.1L1840.6 458.5L2039.4 458.5L2040.1 452.1L2040.9 458.5L2041.6 458.5Z" fill="#f52362" stroke="#f52362" stroke-width="1.1" stroke-linejoin="round"/>
<path d="M1790.7 458.50H2042.3" stroke="#f52362" stroke-width="1.5"/>
<path d="M42.4 508.5L150.6 508.5ZM42.9 508.5L42.9 508.5L43.1 483L44.7 483.3L46.1 485.4L47.1 493.3L48.4 492.8L49.5 500.2L51.1 507L52.1 486.5L53.7 487L54.5 484.3L55.6 484.3L55.8 489.1L57.1 473.3L59.5 473L60.6 475.4L61.1 480.7L62.2 481.2L62.7 489.1L64 488L65.3 474.3L66.4 474.9L67.4 476.4L68.7 484.9L70.3 476.1L71.6 477L72.4 479.6L73.5 485.4L75.1 474.3L76.4 476.4L78 477.5L79 479.1L80.3 473.8L81.4 478.6L83.2 479.1L83.8 477L84.6 477L85.4 484.9L86.2 499.6L87.5 499.6L88.3 475.4L89.3 483.3L90.4 477.5L91.7 478L93.3 499.6L95.4 492.8L96.7 492.3L97.5 481.2L98.8 480.7L99.6 478L100.4 477.5L101.2 479.1L102.5 478.3L103.3 486.5L105.4 472.2L106.7 472.2L107.5 486.5L109.1 482.3L110.1 477.2L111.7 479.1L113 479.1L113.8 478L114.9 478.6L116.2 494.9L118.1 488.6L119.4 485.4L120.4 485.4L121.2 489.1L123.3 487.5L124.1 485.9L125.7 488.6L126.5 473.3L127.6 473.3L128.3 479.1L130.2 477L131.8 478L132.8 477.5L134.4 481.2L135.7 482.8L137 482.8L137.8 477.2L138.9 477.2L139.7 482.8L141.8 482.3L142.6 480.7L144.4 483.8L145.5 482.3L146.5 475.9L147.6 475.9L149.2 473.3L150.6 477L150.6 508.5Z" fill="#405459" stroke="#405459" stroke-width="1.1" stroke-linejoin="round"/>
<path d="M41.7 508.50H151.3" stroke="#405459" stroke-width="1.5"/>
<path d="M161.4 508.5L269.2 508.5L269.9 500.5L270.6 508.5L274.3 508.5L275 500.5L275.8 508.5L277.2 508.5L278 500.5L278.7 508.5L280.2 508.5L280.9 500.5L281.6 508.5L287.5 508.5L288.2 500.5L289 508.5L296.3 508.5L297 498.9L299.2 498.9L300 496.3L301.4 496.3L302.2 498.8L302.9 500.3L303.6 508.5L309.5 508.5L310.2 500.5L312.4 500.5L313.2 508.5L488.4 508.5L489.1 500.5L489.9 508.5L511.1 508.5L511.9 486.7L512.6 486.7L512.6 508.5ZM161.1 508.5L161.1 508.5L161.3 490.9L162.6 490.4L163.3 503.6L164.1 500.1L164.9 500.1L165.4 493.4L166.9 490.9L167.7 488.4L168.7 488.4L169.5 482.8L170.5 482.5L171.2 500.1L172.5 503.1L173.3 492.9L174.3 492.9L175.3 503.1L176.3 500.1L177.6 500.1L178.4 496L179.4 496L181.4 507.2L182.4 500.1L183.4 500.1L184.2 507.2L185.7 496L186.8 496L187.3 500.1L188.3 500.6L189.3 508.5L192.1 508.5L193.1 496L194.6 496L195.4 500.1L198.2 500.1L199.5 507.2L200.2 496L201.5 496L202.3 492.9L203.5 492.9L204.3 500.1L205.3 503.6L206.3 500.1L207.4 501.1L208.4 508.5L209.9 496L212.5 496L213.2 506.7L215.5 506.7L216.5 500.1L217.5 500.6L218.6 507.2L221.1 507.2L223.1 493.4L224.4 492.9L225.4 500.1L226.7 500.6L228 506.7L229.2 500.1L231.3 500.6L232.3 508.5L238.9 508.5L239.9 500.1L242.5 500.6L243.5 508.5L248.6 508.5L249.3 500.1L250.6 500.1L251.6 496L252.4 496L253.2 500.1L254.7 506.7L261.8 508.5L262.8 500.1L264.1 500.6L265.1 508.5L265.1 508.5Z" fill="#da6a19" stroke="#da6a19" stroke-width="1.1" stroke-linejoin="round"/>
<path d="M160.7 508.50H513.3" stroke="#da6a19" stroke-width="1.5"/>
<path d="M523.4 508.5L532.1 508.5L532.9 500.5L535.8 500.5L536.5 508.5L537.2 508.5L538 500.5L538.7 508.5L541.6 508.5L542.3 500.5L543 508.5L548.1 508.5L548.9 500.5L549.6 508.5L549.6 508.5Z" fill="#59dbdc" stroke="#59dbdc" stroke-width="1.1" stroke-linejoin="round"/>
<path d="M522.7 508.50H550.3" stroke="#59dbdc" stroke-width="1.5"/>
<path d="M560.4 508.5L560.4 477.7L561.1 480.5L561.9 508.5L570.6 508.5Z" fill="#f75b5a" stroke="#f75b5a" stroke-width="1.1" stroke-linejoin="round"/>
<path d="M559.7 508.50H571.3" stroke="#f75b5a" stroke-width="1.5"/>
<path d="M581.4 508.5L581.4 508.5L582.1 493.5L582.9 493.5L583.6 489.7L584.3 492.8L585 501.5L585.8 491.2L587.2 491.2L587.9 500.2L588.7 496.4L589.4 496.6L590.8 496.6L591.6 487.6L592.3 484.8L593 484.8L593.8 491.5L594.5 491.5L595.2 487.6L595.9 487.6L596.7 484.1L597.4 481.6L598.1 486.2L599.6 486.2L600.3 487.4L601 489.5L602.5 489.5L603.2 489L604.7 489L605.4 485.3L606.1 502.2L606.8 493.6L607.6 496.5L608.3 496.5L609 505.2L609.7 496.3L610.5 500.4L611.9 500.4L612.7 501.9L613.4 486.5L614.1 484.1L614.8 503.5L615.6 503.5L616.3 492L617 492L617.7 498.8L618.5 495.7L619.2 495.7L619.9 495L621.4 495L622.1 495.9L623.6 495.9L624.3 487.7L625 489.2L625.7 496.6L626.5 496.6L627.2 493.1L627.9 500.2L628.6 484.2L629.4 484.2L630.1 506.5L631.5 506.5L632.3 491.9L633.7 491.9L634.5 491.4L635.2 496.6L635.9 494.9L637.4 494.9L638.1 492L638.8 495.1L640.3 495.1L641 487L641.7 487.7L642.5 490.7L643.2 494.5L643.9 493.2L644.6 493.2L645.4 497.4L646.8 497.4L647.5 493.1L648.3 490L649 490L649.7 487.8L650.4 487.8L651.2 491.4L651.9 488.4L652.6 488.4L653.4 495.3L654.1 497.9L654.8 492.7L655.5 490.7L657 490.7L657.7 481.1L658.4 481.1L659.2 495.6L660.6 495.6L661.3 503.1L662.1 504.8L662.8 506.4L663.5 499.9L664.3 499.9L665 486L665.7 489.3L666.4 489.3L667.2 489.6L667.9 489.6L668.6 491.9L669.3 495.4L670.1 495.4L670.8 496.2L671.5 496.2L672.2 490.5L673.7 490.5L674.4 496.3L675.2 496.3L675.9 491.5L676.6 490.9L677.3 491.1L678.1 491.1L678.8 499L679.5 480.7L681 480.7L681.7 505.9L682.4 505.9L683.2 491.5L683.9 497.3L684.6 500.7L685.3 500.1L686.8 500.1L687.5 501.1L688.2 499.7L689 497.9L689.7 501.3L690.4 501.3L691.1 496.9L691.9 496.9L692.6 508.5L692.6 508.5Z" fill="#9877dd" stroke="#9877dd" stroke-width="1.1" stroke-linejoin="round"/>
<path d="M580.7 508.50H693.3" stroke="#9877dd" stroke-width="1.5"/>
<path d="M703.4 508.5L704.9 508.5L705.6 495.8L706.3 508.5L710.7 508.5L711.4 506.5L712.2 496.6L712.9 497.2L715.1 497.2L715.8 508.5L716.6 508.5L717.3 500L718 500L718.7 495.9L719.5 508.5L720.9 508.5L721.7 482L722.4 508.5L723.1 493.7L724.6 493.7L725.3 508.5L727.5 508.5L728.2 492.5L729 508.5L734.8 508.5L735.6 490.9L736.3 508.5L737 508.5L737.7 501.1L739.2 501.1L739.9 504.7L740.7 508.5L742.1 508.5L742.9 495.8L743.6 508.5L744.3 508.5L745.1 502.1L745.8 498.7L747.2 498.7L748 505.2L748.7 505.2L749.4 494.9L750.2 508.5L751.6 508.5L752.4 492.5L753.1 508.5L753.8 508.5L754.6 500.5L755.3 500.5L756 508.5L757.5 508.5L758.2 500.5L758.9 508.5L763.3 508.5L764.1 500.5L766.2 500.5L767 508.5L771.4 508.5L772.1 500.5L778.7 500.5L779.4 508.5L783.1 508.5L783.8 495.8L784.5 508.5L788.9 508.5L789.6 500.5L790.4 508.5L792.6 508.5L793.3 495.8L794.7 495.8L795.5 508.5L796.2 508.5L796.9 490L797.7 495.8L798.4 495.8L799.1 508.5L799.9 490L800.6 508.5L801.3 495.8L802.8 495.8L803.5 508.5L806.4 508.5L807.2 495.8L811.6 495.8L812.3 508.5L823.3 508.5L824 500.5L825.4 500.5L826.2 508.5L888.3 508.5L889 500.5L889.8 508.5L932.9 508.5L933.6 492.5L933.6 508.5Z" fill="#015585" stroke="#015585" stroke-width="1.1" stroke-linejoin="round"/>
<path d="M702.7 508.50H934.3" stroke="#015585" stroke-width="1.5"/>
<path d="M944.4 508.5L945.9 508.5L946.6 473.6L947.3 478.5L948.1 508.5L948.8 495.8L949.5 508.5L950.3 508.5L951 495.8L951.7 508.5L954.6 508.5L955.4 500.5L959 500.5L959.8 508.5L961.2 508.5L962 500.5L962.7 508.5L969.3 508.5L970 500.5L970.7 508.5L973.7 508.5L974.4 500.5L978.1 500.5L978.8 508.5L982.4 508.5L983.2 500.5L985.4 500.5L986.1 508.5L988.3 508.5L989 500.5L989.8 508.5L992 508.5L992.7 500.5L993.4 508.5L997.1 508.5L997.8 500.5L998.5 508.5L1006.6 508.5L1007.3 500.5L1008 508.5L1009.5 508.5L1010.2 500.5L1013.2 500.5L1013.9 508.5L1024.9 508.5L1025.6 500.5L1026.3 508.5L1030.7 508.5L1031.5 500.5L1032.2 508.5L1035.8 508.5L1036.6 500.5L1037.3 508.5L1060.7 508.5L1061.5 500.5L1062.2 508.5L1065.8 508.5L1066.6 500.5L1067.3 508.5L1087.1 508.5L1087.8 500.5L1089.3 500.5L1090 508.5L1147 508.5L1147.8 500.5L1148.5 508.5L1186.6 508.5L1187.3 495.8L1188 500.5L1193.9 500.5L1194.6 508.5L1416.3 508.5L1417 500.5L1419.9 500.5L1420.7 495.8L1421.4 500.5L1424.3 500.5L1425.1 508.5L1780.6 508.5Z" fill="#568764" stroke="#568764" stroke-width="1.1" stroke-linejoin="round"/>
<path d="M943.7 508.50H1781.3" stroke="#568764" stroke-width="1.5"/>
<path d="M1791.4 508.5L1792.1 508.5L1792.9 500.5L1793.6 508.5L1795.8 508.5L1796.5 500.5L1797.3 508.5L1806.8 508.5L1807.5 500.5L1808.3 508.5L1815.6 508.5L1816.3 500.5L1817.1 508.5L1822.2 508.5L1823 500.5L1823.7 508.5L1861.8 508.5L1862.6 500.5L1863.3 508.5L1872.1 508.5L1872.8 500.5L1874.3 500.5L1875 508.5L1970.4 508.5L1971.2 500.5L1971.9 508.5L2040.1 508.5L2040.9 483.8L2041.6 483.8L2041.6 508.5Z" fill="#f52362" stroke="#f52362" stroke-width="1.1" stroke-linejoin="round"/>
<path d="M1790.7 508.50H2042.3" stroke="#f52362" stroke-width="1.5"/>
<path d="M42.4 558.5L150.6 558.5ZM42.9 558.5L42.9 558.5L43.1 546L44 546.5L44.5 549.6L45.3 543.3L46.3 550.7L47.9 550.2L48.4 541.2L49.5 541.2L50.5 550.2L52.4 550.7L53.2 557.6L54.5 557.6L55.6 550.2L56.6 550.7L57.4 553.9L58.5 536.5L59.5 536.5L60.3 538.6L61.4 537.5L62.2 544.9L63.2 538L64.8 537.5L65.3 534.9L67.4 533.3L69 543.3L70.1 543.3L70.3 549.6L71.4 537.5L72.4 538L73.5 547.6L74.3 537.5L75.3 538L76.4 543.3L79.6 539.1L80.3 539.6L81.1 546L82.2 546.5L83.2 537.5L85.4 535.9L86.2 537L87.2 557L88.3 537.5L89.3 548.6L90.4 541.2L91.4 541.7L92.5 543.3L94.3 557.6L95.9 550.2L97.5 543.3L99.1 539.1L100.4 541.2L102 537.5L103 543.3L104.9 533.3L105.9 534.3L107 541.2L108.6 541.2L109.6 547L110.7 543.3L111.7 541.2L113 546L114.9 543.3L118.6 543.3L120.7 546.5L121.5 557L122.8 557L123.3 546.5L124.4 547L126.5 546L129.7 539.1L131.2 541.2L132.8 532.8L133.9 532.8L135.5 549.6L136.5 537.5L138.1 539.1L139.7 539.1L141.5 537L142.3 527.5L143.4 527.5L144.4 537.5L146 532.8L147.1 533.8L148.1 540.7L150.6 541.2L150.6 558.5Z" fill="#405459" stroke="#405459" stroke-width="1.1" stroke-linejoin="round"/>
<path d="M41.7 558.50H151.3" stroke="#405459" stroke-width="1.5"/>
<path d="M161.4 558.5L161.4 558.5L162.1 522L162.9 524.5L163.6 550.6L164.3 550.6L165.1 558.5L165.8 558.5L166.5 550.6L168 550.6L168.7 558.5L170.9 558.5L171.7 546.3L173.1 546.3L173.9 558.5L174.6 550.6L175.3 546.3L176.1 546.3L176.8 558.5L177.5 543.4L179.7 543.4L180.5 558.5L181.2 550.6L184.1 550.6L184.9 558.5L185.6 541.1L186.3 558.5L190.7 558.5L191.5 549.5L192.2 558.5L192.9 546.3L195.1 546.3L195.9 558.5L196.6 550.5L197.3 558.5L199.5 558.5L200.3 546.3L201 546.3L201.7 558.5L202.5 550.9L203.2 550.9L203.9 558.5L206.9 558.5L207.6 550.6L208.3 550.6L209.1 558.5L209.8 546.3L210.5 546.3L211.3 550.6L212 550.6L212.7 546.3L213.5 546.3L214.2 558.5L214.9 554.5L215.7 558.5L216.4 550.6L217.9 550.6L218.6 558.5L219.3 546.3L220.1 539.1L220.8 558.5L221.5 546.3L222.3 558.5L223 550.6L223.7 546.3L226.7 546.3L227.4 558.5L229.6 558.5L230.3 546.3L231.1 546.3L231.8 558.5L234 558.5L234.7 546.3L235.5 546.3L236.2 558.5L236.9 550.6L237.7 550.6L238.4 558.5L239.1 553L239.9 553L240.6 558.5L241.3 550.6L247.2 550.6L247.9 543.4L249.4 543.4L250.1 550.3L251.6 550.3L252.3 558.5L254.5 558.5L255.2 549.5L256 546.3L257.4 546.3L258.2 550.5L258.9 558.5L259.6 546.3L260.4 546.3L261.1 558.5L261.8 550.6L263.3 550.6L264 558.5L264.8 550.6L267 550.6L267.7 558.5L269.9 558.5L270.6 546.3L272.8 546.3L273.6 558.5L274.3 550.6L275.8 550.6L276.5 558.5L278.7 558.5L279.4 550.6L280.2 550.6L280.9 558.5L282.4 558.5L283.1 550.6L284.6 550.6L285.3 558.5L289 558.5L289.7 550.6L291.9 550.6L292.6 546.3L294.8 546.3L295.6 558.5L307.3 558.5L308 550.3L308.8 558.5L333.7 558.5L334.4 550.3L335.2 558.5L338.8 558.5L339.6 546.1L340.3 558.5L486.9 558.5L487.7 550.3L491.3 550.3L492.1 546.1L493.5 546.1L494.3 550.3L500.1 550.3L500.9 546.1L503.8 546.1L504.5 550.3L509.7 550.3L510.4 558.5L511.1 558.5L511.9 543.5L512.6 541.2L512.6 558.5Z" fill="#da6a19" stroke="#da6a19" stroke-width="1.1" stroke-linejoin="round"/>
<path d="M160.7 558.50H513.3" stroke="#da6a19" stroke-width="1.5"/>
<path d="M523.4 558.5L523.4 546.1L524.1 546.1L524.9 558.5L526.3 558.5L527 550.3L527.8 558.5L530 558.5L530.7 550.3L531.4 558.5L535.8 558.5L536.5 546.1L537.2 546.1L538 558.5L538.7 550.3L539.4 558.5L549.6 558.5Z" fill="#59dbdc" stroke="#59dbdc" stroke-width="1.1" stroke-linejoin="round"/>
<path d="M522.7 558.50H550.3" stroke="#59dbdc" stroke-width="1.5"/>
<path d="M560.4 558.5L560.4 542.8L561.1 544.5L561.9 558.5L570.6 558.5Z" fill="#f75b5a" stroke="#f75b5a" stroke-width="1.1" stroke-linejoin="round"/>
<path d="M559.7 558.50H571.3" stroke="#f75b5a" stroke-width="1.5"/>
<path d="M581.4 558.5L605.4 558.5L606.1 550.3L606.8 558.5L692.6 558.5Z" fill="#9877dd" stroke="#9877dd" stroke-width="1.1" stroke-linejoin="round"/>
<path d="M580.7 558.50H693.3" stroke="#9877dd" stroke-width="1.5"/>
<path d="M703.4 558.5L713.6 558.5L714.4 550.3L715.1 558.5L717.3 558.5L718 550.3L718.7 550.3L719.5 558.5L729.7 558.5L730.4 550.3L731.2 558.5L745.1 558.5L745.8 550.3L746.5 558.5L817.4 558.5L818.1 550.3L818.9 558.5L825.4 558.5L826.2 550.3L826.9 558.5L933.6 558.5Z" fill="#015585" stroke="#015585" stroke-width="1.1" stroke-linejoin="round"/>
<path d="M702.7 558.50H934.3" stroke="#015585" stroke-width="1.5"/>
<path d="M944.4 558.5L945.9 558.5L946.6 537.1L947.3 540.5L948.1 558.5L952.4 558.5L953.2 550.3L953.9 558.5L954.6 558.5L955.4 550.3L956.1 558.5L980.2 558.5L981 550.3L981.7 558.5L992.7 558.5L993.4 550.3L994.1 558.5L1027.8 558.5L1028.5 550.3L1029.3 558.5L1032.2 558.5L1032.9 550.3L1035.1 550.3L1035.8 558.5L1043.9 558.5L1044.6 550.3L1048.3 550.3L1049 558.5L1066.6 558.5L1067.3 550.3L1068 558.5L1155.8 558.5L1156.6 550.3L1157.3 550.3L1158 558.5L1259.7 558.5L1260.4 550.3L1261.2 558.5L1418.5 558.5L1419.2 550.3L1419.9 558.5L1780.6 558.5Z" fill="#568764" stroke="#568764" stroke-width="1.1" stroke-linejoin="round"/>
<path d="M943.7 558.50H1781.3" stroke="#568764" stroke-width="1.5"/>
<path d="M1791.4 558.5L1792.1 558.5L1792.9 546.1L1793.6 558.5L1794.3 550.1L1795.1 550.1L1795.8 558.5L1800.2 558.5L1800.9 550.5L1802.4 550.5L1803.1 550.4L1803.9 550.4L1804.6 558.5L1809 558.5L1809.7 550.3L1810.5 558.5L1814.9 558.5L1815.6 550.3L1816.3 558.5L1827.4 558.5L1828.1 550.3L1831.8 550.3L1832.5 558.5L1851.6 558.5L1852.3 550.3L1853 558.5L2027.7 558.5L2028.4 550.3L2029.1 558.5L2040.9 558.5L2041.6 550.3L2041.6 558.5Z" fill="#f52362" stroke="#f52362" stroke-width="1.1" stroke-linejoin="round"/>
<path d="M1790.7 558.50H2042.3" stroke="#f52362" stroke-width="1.5"/>
<path d="M42.4 608.5L55.5 608.5L56.2 601.2L56.9 608.5L150.6 608.5Z" fill="#405459" stroke="#405459" stroke-width="1.1" stroke-linejoin="round"/>
<path d="M41.7 608.50H151.3" stroke="#405459" stroke-width="1.5"/>
<path d="M161.4 608.5L173.9 608.5L174.6 598L175.3 608.5L187.8 608.5L188.5 601.2L189.3 608.5L216.4 608.5L217.1 601.2L217.9 608.5L512.6 608.5Z" fill="#da6a19" stroke="#da6a19" stroke-width="1.1" stroke-linejoin="round"/>
<path d="M160.7 608.50H513.3" stroke="#da6a19" stroke-width="1.5"/>
<path d="M523.4 608.5L523.4 580.6L524.1 584.5L524.9 596.3L525.6 586.5L526.3 578.5L527 571.6L527.8 578.5L528.5 590.5L529.2 598L530 588.5L530.7 582.3L531.4 586.5L532.1 594.5L532.9 596.3L533.6 583.1L534.3 586.5L535 596.5L535.8 601.2L536.5 593.5L537.2 588.1L538 590.5L538.7 586.5L539.4 580.6L540.1 581.5L540.9 586.5L541.6 588.1L542.3 584.5L543 581.5L543.8 582.5L544.5 581.5L545.2 583.1L546 583.1L546.7 586.5L547.4 589.9L548.1 594.5L548.9 598L549.6 598L549.6 608.5Z" fill="#59dbdc" stroke="#59dbdc" stroke-width="1.1" stroke-linejoin="round"/>
<path d="M522.7 608.50H550.3" stroke="#59dbdc" stroke-width="1.5"/>
<path d="M560.4 608.5L570.6 608.5Z" fill="#f75b5a" stroke="#f75b5a" stroke-width="1.1" stroke-linejoin="round"/>
<path d="M559.7 608.50H571.3" stroke="#f75b5a" stroke-width="1.5"/>
<path d="M581.4 608.5L612.7 608.5L613.4 601.2L614.1 608.5L616.3 608.5L617 601.2L617.7 608.5L692.6 608.5Z" fill="#9877dd" stroke="#9877dd" stroke-width="1.1" stroke-linejoin="round"/>
<path d="M580.7 608.50H693.3" stroke="#9877dd" stroke-width="1.5"/>
<path d="M703.4 608.5L715.8 608.5L716.6 601.2L717.3 608.5L724.6 608.5L725.3 601.2L726.1 608.5L786.7 608.5L787.4 601.2L788.2 608.5L933.6 608.5Z" fill="#015585" stroke="#015585" stroke-width="1.1" stroke-linejoin="round"/>
<path d="M702.7 608.50H934.3" stroke="#015585" stroke-width="1.5"/>
<path d="M944.4 608.5L948.8 608.5L949.5 588.9L950.3 608.5L957.6 608.5L958.3 601.2L959 608.5L986.1 608.5L986.8 595.2L987.6 608.5L989.8 608.5L990.5 601.2L991.2 608.5L992 601.2L992.7 608.5L995.6 608.5L996.3 601.2L997.1 608.5L998.5 608.5L999.3 601.2L1000 608.5L1002.9 608.5L1003.7 601.2L1004.4 608.5L1011 608.5L1011.7 601.2L1012.4 608.5L1023.4 608.5L1024.1 601.2L1024.9 601.2L1025.6 608.5L1031.5 608.5L1032.2 601.2L1032.9 608.5L1062.2 608.5L1062.9 601.2L1063.6 608.5L1146.3 608.5L1147 601.2L1147.8 608.5L1780.6 608.5Z" fill="#568764" stroke="#568764" stroke-width="1.1" stroke-linejoin="round"/>
<path d="M943.7 608.50H1781.3" stroke="#568764" stroke-width="1.5"/>
<path d="M1791.4 608.5L1831.8 608.5L1832.5 601.2L1833.2 608.5L2041.6 608.5Z" fill="#f52362" stroke="#f52362" stroke-width="1.1" stroke-linejoin="round"/>
<path d="M1790.7 608.50H2042.3" stroke="#f52362" stroke-width="1.5"/>
<path d="M42.4 658.5L150.6 658.5ZM42.9 658.5L42.9 658.5L43.1 623L44 625.4L45 627.2L45.8 632.8L46.6 633.3L47.4 638L48.4 645.4L49.2 639.1L50.3 638L51.1 637L52.4 637L53.2 627.8L54.2 627.5L55 631.7L56.4 632.8L57.4 635.4L58.5 629.1L59.5 628.6L60.8 630.7L61.9 632.8L63.7 632.8L65.1 637L66.4 637L67.4 636.2L68.5 641.7L70.3 636.2L71.6 635.9L72.4 632L73.2 634.9L74.5 633.6L76.9 633.3L78.5 632.2L80.1 632L81.1 633.3L82.2 635.9L84 629.1L85.4 629.1L86.4 632.8L87.7 632.5L89.1 635.9L90.4 635.4L91.4 631.2L93 639.6L94.3 640.7L96.4 640.7L97.5 635.9L98.8 635.4L99.9 640.1L101.7 638.6L103.3 633.8L104.3 634.4L105.4 635.4L106.7 633.3L108.6 634.4L109.6 634.9L110.9 632.2L112.3 633.8L114.9 634.9L116.5 638.9L117.5 635.9L118.6 635.9L119.4 632.2L120.4 632.2L121.2 637.8L122.8 637L124.1 630.1L124.9 630.1L126 634.9L127 638.9L129.1 633.3L130.2 634.4L131.8 640.1L132.8 640.1L133.9 639.1L135.5 640.1L136.3 635.2L138.1 636.2L139.2 634.4L140.7 633.8L142.3 632.8L143.4 630.1L144.7 631.7L145.5 632.8L146.5 636.5L147.6 639.6L149.2 639.4L150.6 640.7L150.6 658.5Z" fill="#405459" stroke="#405459" stroke-width="1.1" stroke-linejoin="round"/>
<path d="M41.7 658.50H151.3" stroke="#405459" stroke-width="1.5"/>
<path d="M161.4 658.5L161.4 658.5L162.1 634.1L162.9 635.6L163.6 636.6L164.3 632.8L165.8 632.8L166.5 646.6L167.3 646.6L168 629.3L169.5 629.3L170.2 631.3L171.7 631.3L172.4 630.3L173.1 630.3L173.9 637.8L174.6 628.8L176.1 628.8L176.8 629.5L177.5 629.1L178.3 629.1L179 637.5L179.7 637.5L180.5 638.1L181.2 638.1L181.9 636.4L182.7 636.4L183.4 636.5L184.1 633.1L184.9 650.3L185.6 635L187.1 635L187.8 632.4L188.5 648.2L189.3 632.1L190 633.8L191.5 633.8L192.2 635.7L192.9 636L193.7 629.8L194.4 637.1L195.1 650.6L195.9 634L196.6 634L197.3 634.5L198.1 634.5L198.8 628.4L199.5 637L200.3 631.9L201 637.1L201.7 628.2L202.5 635.3L203.9 635.3L204.7 632.8L205.4 629.2L206.9 629.2L207.6 638L208.3 638L209.1 637.8L209.8 631L211.3 631L212 653.3L212.7 653.3L213.5 633.7L214.2 637L214.9 637L215.7 628.2L216.4 628.2L217.1 633.4L217.9 635.1L218.6 635.1L219.3 628.5L220.1 632.3L221.5 632.3L222.3 629.4L223 629.4L223.7 632L224.5 634.4L225.2 629.8L225.9 629.8L226.7 630.6L227.4 633.9L228.1 633.9L228.9 652.8L229.6 652.8L230.3 627.1L231.8 627.1L232.5 631L233.3 634.6L234 634.6L234.7 634L235.5 634L236.2 631.5L236.9 629.6L237.7 629.6L238.4 637L239.1 637L239.9 633.3L240.6 633.3L241.3 650.5L242.1 637.4L242.8 637.4L243.5 634.6L244.3 634.6L245 630L245.7 630L246.5 654L247.2 630.3L247.9 630.3L248.7 634.7L249.4 630.7L250.1 630.7L250.8 628.2L251.6 635.1L252.3 635.1L253 636.1L253.8 636.8L254.5 636.8L255.2 628.7L256.7 628.7L257.4 631.8L258.2 631.8L258.9 637.6L259.6 635.1L260.4 630.2L261.1 632.7L261.8 632.7L262.6 632.3L263.3 632.3L264 649.5L264.8 649.5L265.5 629.1L266.2 630.4L267 630.4L267.7 631.6L268.4 631.6L269.2 636.9L269.9 630.7L270.6 630.7L271.4 636.1L272.1 639.4L273.6 639.4L274.3 633.3L275 634.2L275.8 636.1L276.5 638.5L278 638.5L278.7 633.2L279.4 635.7L280.9 635.7L281.6 633.5L283.1 633.5L283.8 637.6L284.6 637.6L285.3 649.3L286 629.9L286.8 629.9L287.5 636.5L288.2 636.5L289 638.9L289.7 638.9L290.4 635L291.2 635L291.9 634L292.6 637.4L293.4 649.2L294.1 634.3L294.8 634.3L295.6 631.1L296.3 634.7L297 634.7L297.8 632.5L298.5 633.8L299.2 637L300 641.5L300.7 636.7L301.4 641.6L302.2 641.6L302.9 641.9L303.6 641.9L304.4 636.8L305.1 636.8L305.8 641.3L306.6 638.7L307.3 635L308 639.9L308.8 648.3L309.5 635.6L310.2 636.9L311.7 636.9L312.4 634.2L313.2 634.2L313.9 640.6L314.6 640.6L315.4 638.7L316.1 638.7L316.8 638.8L317.6 638.8L318.3 640.5L319 635.2L319.8 631L321.2 631L322 630L322.7 630L323.4 633.1L324.9 633.1L325.6 633.4L327.1 633.4L327.8 635.6L329.3 635.6L330 632.3L330.8 630.1L331.5 631.8L332.2 635.3L333.7 635.3L334.4 638.4L335.2 638.4L335.9 651.9L336.6 651.9L337.4 643L338.1 640L339.6 640L340.3 636.4L341 634.9L341.8 634.6L342.5 640.3L343.2 640.3L344 635.2L344.7 635.2L345.4 634.9L346.2 638.2L346.9 635.8L347.6 626L348.4 626L349.1 644.1L349.8 646.5L350.6 646.5L351.3 641.6L352 628.7L352.8 630.6L354.2 630.6L355 635L355.7 632.9L356.4 637.3L357.2 635.6L358.6 635.6L359.4 639.6L360.8 639.6L361.6 632.4L362.3 632.4L363 640L364.5 640L365.2 653.7L366 640.1L366.7 640.2L367.4 642.4L368.2 642.4L368.9 640.4L369.6 640.4L370.4 643.9L371.1 641.7L371.8 641.7L372.6 639.9L373.3 637L374 643L374.8 643L375.5 641.8L376.2 641.8L377 641.1L377.7 641.1L378.4 642.1L379.9 642.1L380.6 652.7L381.4 639.4L382.1 643L382.8 643.3L383.6 643L384.3 643L385 653.1L385.8 647.1L387.2 647.1L388 642.1L388.7 645.3L389.4 645.3L390.2 643.6L390.9 643.4L391.6 644L392.4 641.1L393.1 641.1L393.8 642.3L394.6 642.3L395.3 639L396.8 639L397.5 631.2L398.2 631.2L399 624.9L399.7 624.9L400.4 627.6L401.2 633.9L401.9 633.9L402.6 637L403.4 637L404.1 645.9L404.8 646L405.6 646L406.3 641.9L407 638.9L408.5 638.9L409.2 638.8L410 637.6L410.7 634.4L411.4 634.7L412.2 636.7L412.9 636.7L413.6 631.8L414.4 643.8L415.1 643.8L415.8 635.8L416.6 635.8L417.3 637.8L418 648.7L418.8 631.5L419.5 638.6L420.2 638.6L421 633.3L422.4 633.3L423.2 634.7L423.9 631.4L424.6 634.8L425.3 634.8L426.1 634.3L426.8 632.6L427.5 632.7L428.3 635.8L429 630.5L429.7 630.5L430.5 631.6L431.2 631.6L431.9 631.2L432.7 630.1L434.1 630.1L434.9 635L436.3 635L437.1 637.2L437.8 635.6L438.5 638.4L439.3 638.4L440 635L440.7 631.4L441.5 634.9L442.9 634.9L443.7 640.7L445.1 640.7L445.9 634.8L446.6 634.8L447.3 635.2L448.1 635.2L448.8 637L449.5 640.4L450.3 640.4L451 636.2L451.7 636.2L452.5 643.4L453.2 639.2L454.7 639.2L455.4 639.1L456.9 639.1L457.6 641.4L458.3 641L459.1 641L459.8 635.4L460.5 631.9L461.3 631.9L462 645L462.7 642.4L464.2 642.4L464.9 630.9L465.7 630.9L466.4 634.6L467.1 637.8L467.9 639.5L468.6 636.8L469.3 634.9L470.1 640L470.8 645L471.5 641.1L472.3 635L473 635L473.7 639.8L474.5 639.8L475.2 634.8L475.9 636.5L476.7 642L477.4 637.7L478.9 637.7L479.6 641.1L480.3 638.1L481.1 641.8L481.8 641.2L483.3 641.2L484 644.9L484.7 644.9L485.5 640.7L486.2 637.1L486.9 637.1L487.7 634.3L489.1 634.3L489.9 632L490.6 635.3L491.3 627.3L492.1 634.9L492.8 634.9L493.5 626L494.3 626.9L495 628.5L495.7 628.4L496.5 627.5L497.9 627.5L498.7 635.8L500.1 635.8L500.9 634.5L501.6 637.5L502.3 636L503.1 632.4L503.8 632.4L504.5 631.4L505.3 633.4L506 639.1L506.7 634.5L507.5 632.7L508.2 633.3L508.9 633.3L509.7 646.9L510.4 646.9L511.1 633.9L511.9 633.9L512.6 638.1L512.6 658.5Z" fill="#da6a19" stroke="#da6a19" stroke-width="1.1" stroke-linejoin="round"/>
<path d="M160.7 658.50H513.3" stroke="#da6a19" stroke-width="1.5"/>
<path d="M523.4 658.5L523.4 621.9L524.1 625.5L524.9 633.5L525.6 631.5L526.3 628.5L527 632.5L527.8 625.5L528.5 622.7L529.2 624.5L530 622.7L530.7 623.5L531.4 628.5L532.1 634.5L532.9 635.9L533.6 628.5L534.3 624.5L535 625.5L535.8 624.5L536.5 625.5L537.2 631.5L538 632.6L538.7 632.5L539.4 633.5L540.1 632.6L540.9 632.5L541.6 630.5L542.3 626L543 628.5L543.8 625.5L544.5 626.5L545.2 624.5L546 625L546.7 624.5L547.4 626.5L548.1 632.5L548.9 639.2L549.6 639.2L549.6 658.5Z" fill="#59dbdc" stroke="#59dbdc" stroke-width="1.1" stroke-linejoin="round"/>
<path d="M522.7 658.50H550.3" stroke="#59dbdc" stroke-width="1.5"/>
<path d="M560.4 658.5L560.4 658.5L561.1 638L561.9 638L562.6 643.3L563.3 643.3L564 644.7L564.8 646.6L566.2 646.6L567 651.7L567.7 651.7L568.4 653.6L569.9 653.6L570.6 658.5L570.6 658.5Z" fill="#f75b5a" stroke="#f75b5a" stroke-width="1.1" stroke-linejoin="round"/>
<path d="M559.7 658.50H571.3" stroke="#f75b5a" stroke-width="1.5"/>
<path d="M581.4 658.5L581.4 658.5L582.1 647.5L582.9 658.5L583.6 658.5L584.3 653.2L585 658.5L587.2 658.5L587.9 648.3L588.7 648.3L589.4 658.5L590.1 658.5L590.8 653.2L591.6 658.5L595.9 658.5L596.7 649.9L597.4 649.9L598.1 658.5L601 658.5L601.8 649.9L602.5 658.5L603.2 658.5L603.9 653.2L605.4 653.2L606.1 658.5L609 658.5L609.7 653.2L610.5 658.5L614.8 658.5L615.6 653.2L617.7 653.2L618.5 658.5L622.8 658.5L623.6 652.4L625.7 652.4L626.5 658.5L627.2 649.9L627.9 658.5L630.8 658.5L631.5 649.9L635.9 649.9L636.6 658.5L660.6 658.5L661.3 653.2L662.1 658.5L690.4 658.5L691.1 653.2L691.9 658.5L692.6 658.5Z" fill="#9877dd" stroke="#9877dd" stroke-width="1.1" stroke-linejoin="round"/>
<path d="M580.7 658.50H693.3" stroke="#9877dd" stroke-width="1.5"/>
<path d="M703.4 658.5L704.9 658.5L705.6 655.7L706.3 655.7L707.1 654.3L707.8 654.7L708.5 650.9L710.7 650.9L711.4 658.5L715.8 658.5L716.6 653.2L717.3 658.5L718.7 658.5L719.5 653.2L720.2 653.2L720.9 658.5L728.2 658.5L729 657.1L729.7 658.5L731.2 658.5L731.9 649.1L732.6 648.7L733.4 648.7L734.1 658.5L734.8 658.5L735.6 656.2L736.3 656.2L737 650.9L737.7 650.9L738.5 656L739.2 658.5L744.3 658.5L745.1 649.9L745.8 658.5L749.4 658.5L750.2 650.4L751.6 650.4L752.4 650.7L753.8 650.7L754.6 658.5L755.3 657.2L756 650.1L756.7 650.1L757.5 658.5L758.9 658.5L759.7 654.5L760.4 658.5L761.9 658.5L762.6 652.2L763.3 652.2L764.1 652.7L764.8 652.7L765.5 658.5L771.4 658.5L772.1 653.2L772.8 658.5L781.6 658.5L782.3 653.2L783.1 658.5L783.8 658.5L784.5 653.2L785.2 653.2L786 658.5L786.7 658.5L787.4 653.2L788.2 658.5L792.6 658.5L793.3 653.2L794 658.5L796.2 658.5L796.9 653.2L797.7 653.2L798.4 658.5L805.7 658.5L806.4 653.2L807.2 658.5L812.3 658.5L813 653.2L813.7 658.5L818.1 658.5L818.9 652.5L821.1 652.5L821.8 658.5L829.8 658.5L830.6 653.2L831.3 658.5L832 658.5L832.8 653.2L833.5 653.2L834.2 658.5L837.9 658.5L838.6 653.2L839.3 658.5L854.7 658.5L855.4 653.2L856.1 653.2L856.9 658.5L858.3 658.5L859.1 653.2L859.8 653.2L860.5 658.5L889 658.5L889.8 653.2L890.5 658.5L932.9 658.5L933.6 653.2L933.6 658.5Z" fill="#015585" stroke="#015585" stroke-width="1.1" stroke-linejoin="round"/>
<path d="M702.7 658.50H934.3" stroke="#015585" stroke-width="1.5"/>
<path d="M944.4 658.5L945.1 658.5L945.9 633.8L946.6 633.8L947.3 657L948.1 654.7L949.5 654.7L950.3 658.5L951.7 658.5L952.4 648.7L954.6 648.7L955.4 649.7L956.1 650.3L956.8 649.2L957.6 658.5L959 658.5L959.8 654.9L960.5 658.5L961.2 658.5L962 653.4L963.4 653.4L964.2 653.2L964.9 653.1L965.6 653.1L966.3 658.5L967.1 658.5L967.8 649.9L971.5 649.9L972.2 658.5L975.1 658.5L975.9 647.5L976.6 658.5L977.3 653.2L978.1 658.5L980.2 658.5L981 653.2L984.6 653.2L985.4 658.5L987.6 658.5L988.3 653.2L989 658.5L990.5 658.5L991.2 653.2L992 658.5L992.7 658.5L993.4 653.2L994.1 658.5L994.9 658.5L995.6 653.2L996.3 658.5L1010.2 658.5L1011 653.2L1011.7 658.5L1013.2 658.5L1013.9 653.2L1015.4 653.2L1016.1 658.5L1018.3 658.5L1019 653.2L1023.4 653.2L1024.1 658.5L1025.6 658.5L1026.3 653.2L1030 653.2L1030.7 658.5L1031.5 658.5L1032.2 653.2L1032.9 658.5L1035.1 658.5L1035.8 653.2L1036.6 658.5L1038 658.5L1038.8 649.9L1039.5 658.5L1040.2 653.2L1042.4 653.2L1043.2 658.5L1062.2 658.5L1062.9 653.2L1068 653.2L1068.8 658.5L1071 658.5L1071.7 651.9L1072.4 650.8L1073.2 651.4L1073.9 649.7L1074.6 649.7L1075.4 650.6L1076.1 650.6L1076.8 650.9L1077.5 650.9L1078.3 658.5L1089.3 658.5L1090 653.2L1092.9 653.2L1093.6 649.9L1094.4 653.2L1117.1 653.2L1117.8 658.5L1139 658.5L1139.7 653.2L1143.4 653.2L1144.1 658.5L1145.6 658.5L1146.3 653.2L1150 653.2L1150.7 658.5L1169.7 658.5L1170.5 653.2L1171.9 653.2L1172.7 658.5L1196.1 658.5L1196.8 648.3L1198.3 648.3L1199 658.5L1199.7 649.9L1200.5 649.9L1201.2 653.2L1220.2 653.2L1220.9 658.5L1221.7 658.5L1222.4 648.3L1223.1 648.3L1223.9 658.5L1224.6 649.9L1226.1 649.9L1226.8 658.5L1227.5 653.2L1230.4 653.2L1231.2 658.5L1231.9 649.9L1232.6 653.2L1249.5 653.2L1250.2 658.5L1259.7 658.5L1260.4 653.2L1266.3 653.2L1267 658.5L1282.4 658.5L1283.1 649.9L1283.9 649.9L1284.6 658.5L1285.3 653.2L1286.8 653.2L1287.5 658.5L1288.2 649.9L1289 658.5L1289.7 653.2L1302.9 653.2L1303.6 658.5L1780.6 658.5Z" fill="#568764" stroke="#568764" stroke-width="1.1" stroke-linejoin="round"/>
<path d="M943.7 658.50H1781.3" stroke="#568764" stroke-width="1.5"/>
<path d="M1791.4 658.5L1795.8 658.5L1796.5 649.9L1797.3 649.9L1798 658.5L1798.7 658.5L1799.5 652.7L1803.1 652.7L1803.9 658.5L1813.4 658.5L1814.1 653.2L1814.9 658.5L1821.5 658.5L1822.2 653.2L1823.7 653.2L1824.4 658.5L1825.2 658.5L1825.9 649.9L1826.6 658.5L1839.1 658.5L1839.8 649.9L1840.6 658.5L1841.3 652.7L1851.6 652.7L1852.3 658.5L1853 649.9L1853.8 658.5L1854.5 652.7L1866.2 652.7L1867 658.5L1867.7 649.9L1868.4 658.5L1869.2 652.7L1872.8 652.7L1873.6 658.5L2035.7 658.5L2036.5 652.7L2039.4 652.7L2040.1 658.5L2040.9 630.2L2041.6 658.5L2041.6 658.5Z" fill="#f52362" stroke="#f52362" stroke-width="1.1" stroke-linejoin="round"/>
<path d="M1790.7 658.50H2042.3" stroke="#f52362" stroke-width="1.5"/>
<path d="M42.4 708.5L43.1 708.5L43.9 697L44.6 700.5L45.3 708.5L46 708.5L46.8 701.9L47.5 701.9L48.2 708.5L54 708.5L54.7 701.9L55.5 708.5L60.6 708.5L61.3 697.8L62 708.5L88.9 708.5L89.6 701.9L90.3 708.5L91.1 708.5L91.8 701.9L92.5 708.5L93.2 708.5L94 701.9L94.7 708.5L97.6 708.5L98.3 701.9L99 701.9L99.8 708.5L150.6 708.5Z" fill="#405459" stroke="#405459" stroke-width="1.1" stroke-linejoin="round"/>
<path d="M41.7 708.50H151.3" stroke="#405459" stroke-width="1.5"/>
<path d="M161.4 708.5L161.4 708.5L162.1 701.9L162.9 708.5L163.6 708.5L164.3 691.2L165.1 694.5L165.8 708.5L171.7 708.5L172.4 701.9L173.1 708.5L173.9 708.5L174.6 701.9L175.3 701.9L176.1 708.5L176.8 708.5L177.5 701.9L178.3 708.5L179 708.5L179.7 701.9L180.5 701.9L181.2 708.5L185.6 708.5L186.3 701.9L187.1 708.5L192.9 708.5L193.7 701.9L194.4 708.5L198.8 708.5L199.5 701.9L200.3 708.5L231.8 708.5L232.5 701.9L233.3 708.5L234.7 708.5L235.5 701.9L239.9 701.9L240.6 708.5L243.5 708.5L244.3 701.9L245 708.5L258.2 708.5L258.9 701.9L259.6 708.5L260.4 708.5L261.1 698.8L261.8 700.5L262.6 708.5L280.2 708.5L280.9 701.9L281.6 708.5L288.2 708.5L289 701.9L289.7 708.5L317.6 708.5L318.3 701.9L319 708.5L329.3 708.5L330 701.9L330.8 708.5L512.6 708.5Z" fill="#da6a19" stroke="#da6a19" stroke-width="1.1" stroke-linejoin="round"/>
<path d="M160.7 708.50H513.3" stroke="#da6a19" stroke-width="1.5"/>
<path d="M523.4 708.5L545.2 708.5L546 701.9L546.7 708.5L549.6 708.5Z" fill="#59dbdc" stroke="#59dbdc" stroke-width="1.1" stroke-linejoin="round"/>
<path d="M522.7 708.50H550.3" stroke="#59dbdc" stroke-width="1.5"/>
<path d="M560.4 708.5L560.4 677.2L561.1 680.5L561.9 679.5L562.6 676.5L563.3 674.5L564 672.1L564.8 673.5L565.5 675.5L566.2 675L567 674.2L567.7 676L568.4 673.4L569.1 675.5L569.9 677.5L570.6 679L570.6 708.5Z" fill="#f75b5a" stroke="#f75b5a" stroke-width="1.1" stroke-linejoin="round"/>
<path d="M559.7 708.50H571.3" stroke="#f75b5a" stroke-width="1.5"/>
<path d="M581.4 708.5L692.6 708.5Z" fill="#9877dd" stroke="#9877dd" stroke-width="1.1" stroke-linejoin="round"/>
<path d="M580.7 708.50H693.3" stroke="#9877dd" stroke-width="1.5"/>
<path d="M703.4 708.5L711.4 708.5L712.2 698.6L712.9 708.5L725.3 708.5L726.1 701.9L726.8 708.5L758.2 708.5L758.9 701.9L759.7 708.5L786.7 708.5L787.4 701.9L788.2 708.5L933.6 708.5Z" fill="#015585" stroke="#015585" stroke-width="1.1" stroke-linejoin="round"/>
<path d="M702.7 708.50H934.3" stroke="#015585" stroke-width="1.5"/>
<path d="M944.4 708.5L944.4 708.5L945.1 702.4L945.9 708.5L948.8 708.5L949.5 702.4L950.3 708.5L968.5 708.5L969.3 702.4L970 708.5L1000.7 708.5L1001.5 702.4L1003.7 702.4L1004.4 708.5L1005.9 708.5L1006.6 702.4L1010.2 702.4L1011 708.5L1031.5 708.5L1032.2 702.4L1032.9 708.5L1035.8 708.5L1036.6 702.4L1037.3 708.5L1076.8 708.5L1077.5 702.4L1078.3 708.5L1145.6 708.5L1146.3 702.4L1147 708.5L1171.9 708.5L1172.7 702.4L1173.4 708.5L1780.6 708.5Z" fill="#568764" stroke="#568764" stroke-width="1.1" stroke-linejoin="round"/>
<path d="M943.7 708.50H1781.3" stroke="#568764" stroke-width="1.5"/>
<path d="M1791.4 708.5L1792.9 708.5L1793.6 702.4L1794.3 708.5L1819.3 708.5L1820 702.4L1820.7 702.4L1821.5 708.5L1822.2 702.4L1823 708.5L1891.2 708.5L1891.9 702.4L1892.7 708.5L2041.6 708.5Z" fill="#f52362" stroke="#f52362" stroke-width="1.1" stroke-linejoin="round"/>
<path d="M1790.7 708.50H2042.3" stroke="#f52362" stroke-width="1.5"/>
<path d="M42.5 120V161M37.5 158.5H42.5" stroke="#000" stroke-width="1" fill="none"/>
<path d="M37.5 134.5H42.5" stroke="#000" stroke-width="1"/>
<text x="31.3" y="164.2" font-size="14.5" text-anchor="end">0.0</text>
<text x="31.3" y="140.2" font-size="14.5" text-anchor="end">2.5</text>
<text x="2052" y="145.1" font-size="17.5" textLength="35.4" lengthAdjust="spacingAndGlyphs">IL7R</text>
<path d="M42.5 170V211M37.5 208.5H42.5" stroke="#000" stroke-width="1" fill="none"/>
<path d="M37.5 175.5H42.5" stroke="#000" stroke-width="1"/>
<text x="31.3" y="214.2" font-size="14.5" text-anchor="end">0.0</text>
<text x="31.3" y="181.2" font-size="14.5" text-anchor="end">2.5</text>
<text x="2052" y="195.1" font-size="17.5" textLength="44.5" lengthAdjust="spacingAndGlyphs">CD14</text>
<path d="M42.5 220V261M37.5 258.5H42.5" stroke="#000" stroke-width="1" fill="none"/>
<path d="M37.5 223.5H42.5" stroke="#000" stroke-width="1"/>
<text x="31.3" y="264.2" font-size="14.5" text-anchor="end">0</text>
<text x="31.3" y="229.2" font-size="14.5" text-anchor="end">5</text>
<text x="2052" y="245.1" font-size="17.5" textLength="27.6" lengthAdjust="spacingAndGlyphs">LYZ</text>
<path d="M42.5 270V311M37.5 308.5H42.5" stroke="#000" stroke-width="1" fill="none"/>
<path d="M37.5 283.5H42.5" stroke="#000" stroke-width="1"/>
<text x="31.3" y="314.2" font-size="14.5" text-anchor="end">0.0</text>
<text x="31.3" y="289.2" font-size="14.5" text-anchor="end">2.5</text>
<text x="2052" y="295.1" font-size="17.5" textLength="55.3" lengthAdjust="spacingAndGlyphs">MS4A1</text>
<path d="M42.5 320V361M37.5 358.5H42.5" stroke="#000" stroke-width="1" fill="none"/>
<path d="M37.5 323.5H42.5" stroke="#000" stroke-width="1"/>
<text x="31.3" y="364.2" font-size="14.5" text-anchor="end">0</text>
<text x="31.3" y="329.2" font-size="14.5" text-anchor="end">2</text>
<text x="2052" y="345.1" font-size="17.5" textLength="45.2" lengthAdjust="spacingAndGlyphs">CD8A</text>
<path d="M42.5 370V411M37.5 408.5H42.5" stroke="#000" stroke-width="1" fill="none"/>
<path d="M37.5 387.5H42.5" stroke="#000" stroke-width="1"/>
<text x="31.3" y="414.2" font-size="14.5" text-anchor="end">0.0</text>
<text x="31.3" y="393.2" font-size="14.5" text-anchor="end">2.5</text>
<text x="2052" y="395.1" font-size="17.5" textLength="41.8" lengthAdjust="spacingAndGlyphs">GNLY</text>
<path d="M42.5 420V461M37.5 458.5H42.5" stroke="#000" stroke-width="1" fill="none"/>
<path d="M37.5 437.5H42.5" stroke="#000" stroke-width="1"/>
<text x="31.3" y="464.2" font-size="14.5" text-anchor="end">0.0</text>
<text x="31.3" y="443.2" font-size="14.5" text-anchor="end">2.5</text>
<text x="2052" y="445.1" font-size="17.5" textLength="46.2" lengthAdjust="spacingAndGlyphs">NKG7</text>
<path d="M42.5 470V511M37.5 508.5H42.5" stroke="#000" stroke-width="1" fill="none"/>
<path d="M37.5 480.5H42.5" stroke="#000" stroke-width="1"/>
<text x="31.3" y="514.2" font-size="14.5" text-anchor="end">0.0</text>
<text x="31.3" y="486.2" font-size="14.5" text-anchor="end">2.5</text>
<text x="2052" y="495.1" font-size="17.5" textLength="66.6" lengthAdjust="spacingAndGlyphs">FCGR3A</text>
<path d="M42.5 520V561M37.5 558.5H42.5" stroke="#000" stroke-width="1" fill="none"/>
<path d="M37.5 531.5H42.5" stroke="#000" stroke-width="1"/>
<text x="31.3" y="564.2" font-size="14.5" text-anchor="end">0.0</text>
<text x="31.3" y="537.2" font-size="14.5" text-anchor="end">2.5</text>
<text x="2052" y="545.1" font-size="17.5" textLength="56.4" lengthAdjust="spacingAndGlyphs">MS4A7</text>
<path d="M42.5 570V611M37.5 608.5H42.5" stroke="#000" stroke-width="1" fill="none"/>
<path d="M37.5 585.5H42.5" stroke="#000" stroke-width="1"/>
<text x="31.3" y="614.2" font-size="14.5" text-anchor="end">0.0</text>
<text x="31.3" y="591.2" font-size="14.5" text-anchor="end">2.5</text>
<text x="2052" y="595.1" font-size="17.5" textLength="64.5" lengthAdjust="spacingAndGlyphs">FCER1A</text>
<path d="M42.5 620V661M37.5 658.5H42.5" stroke="#000" stroke-width="1" fill="none"/>
<path d="M37.5 620.5H42.5" stroke="#000" stroke-width="1"/>
<text x="31.3" y="664.2" font-size="14.5" text-anchor="end">0</text>
<text x="31.3" y="626.2" font-size="14.5" text-anchor="end">5</text>
<text x="2052" y="645.1" font-size="17.5" textLength="42.4" lengthAdjust="spacingAndGlyphs">CST3</text>
<path d="M42.5 670V711M37.5 708.5H42.5" stroke="#000" stroke-width="1" fill="none"/>
<path d="M37.5 686.5H42.5" stroke="#000" stroke-width="1"/>
<text x="31.3" y="714.2" font-size="14.5" text-anchor="end">0.0</text>
<text x="31.3" y="692.2" font-size="14.5" text-anchor="end">2.5</text>
<text x="2052" y="695.1" font-size="17.5" textLength="41.6" lengthAdjust="spacingAndGlyphs">PPBP</text>
<rect x="42" y="720" width="109" height="10" fill="#405459"/>
<rect x="161" y="720" width="352" height="10" fill="#da6a19"/>
<rect x="523" y="720" width="27" height="10" fill="#59dbdc"/>
<rect x="560" y="720" width="11" height="10" fill="#f75b5a"/>
<rect x="581" y="720" width="112" height="10" fill="#9877dd"/>
<rect x="703" y="720" width="231" height="10" fill="#015585"/>
<rect x="944" y="720" width="837" height="10" fill="#568764"/>
<rect x="1791" y="720" width="251" height="10" fill="#f52362"/>
<text transform="translate(99.2,883.0) rotate(-90)" font-size="14.5" textLength="145.9" lengthAdjust="spacingAndGlyphs">FCGR3A+ Monocytes</text>
<text transform="translate(340.0,863.7) rotate(-90)" font-size="14.5" textLength="126.6" lengthAdjust="spacingAndGlyphs">CD14+ Monocytes</text>
<text transform="translate(539.2,833.5) rotate(-90)" font-size="14.5" textLength="97.0" lengthAdjust="spacingAndGlyphs">Dendritic cells</text>
<text transform="translate(569.1,850.9) rotate(-90)" font-size="14.5" textLength="111.4" lengthAdjust="spacingAndGlyphs">Megakaryocytes</text>
<text transform="translate(640.0,789.4) rotate(-90)" font-size="14.5" textLength="52.9" lengthAdjust="spacingAndGlyphs">NK cells</text>
<text transform="translate(822.0,813.2) rotate(-90)" font-size="14.5" textLength="76.4" lengthAdjust="spacingAndGlyphs">CD8 T cells</text>
<text transform="translate(1366.0,813.2) rotate(-90)" font-size="14.5" textLength="76.4" lengthAdjust="spacingAndGlyphs">CD4 T cells</text>
<text transform="translate(1919.0,780.9) rotate(-90)" font-size="14.5" textLength="43.9" lengthAdjust="spacingAndGlyphs">B cells</text>
</svg></body></html>
